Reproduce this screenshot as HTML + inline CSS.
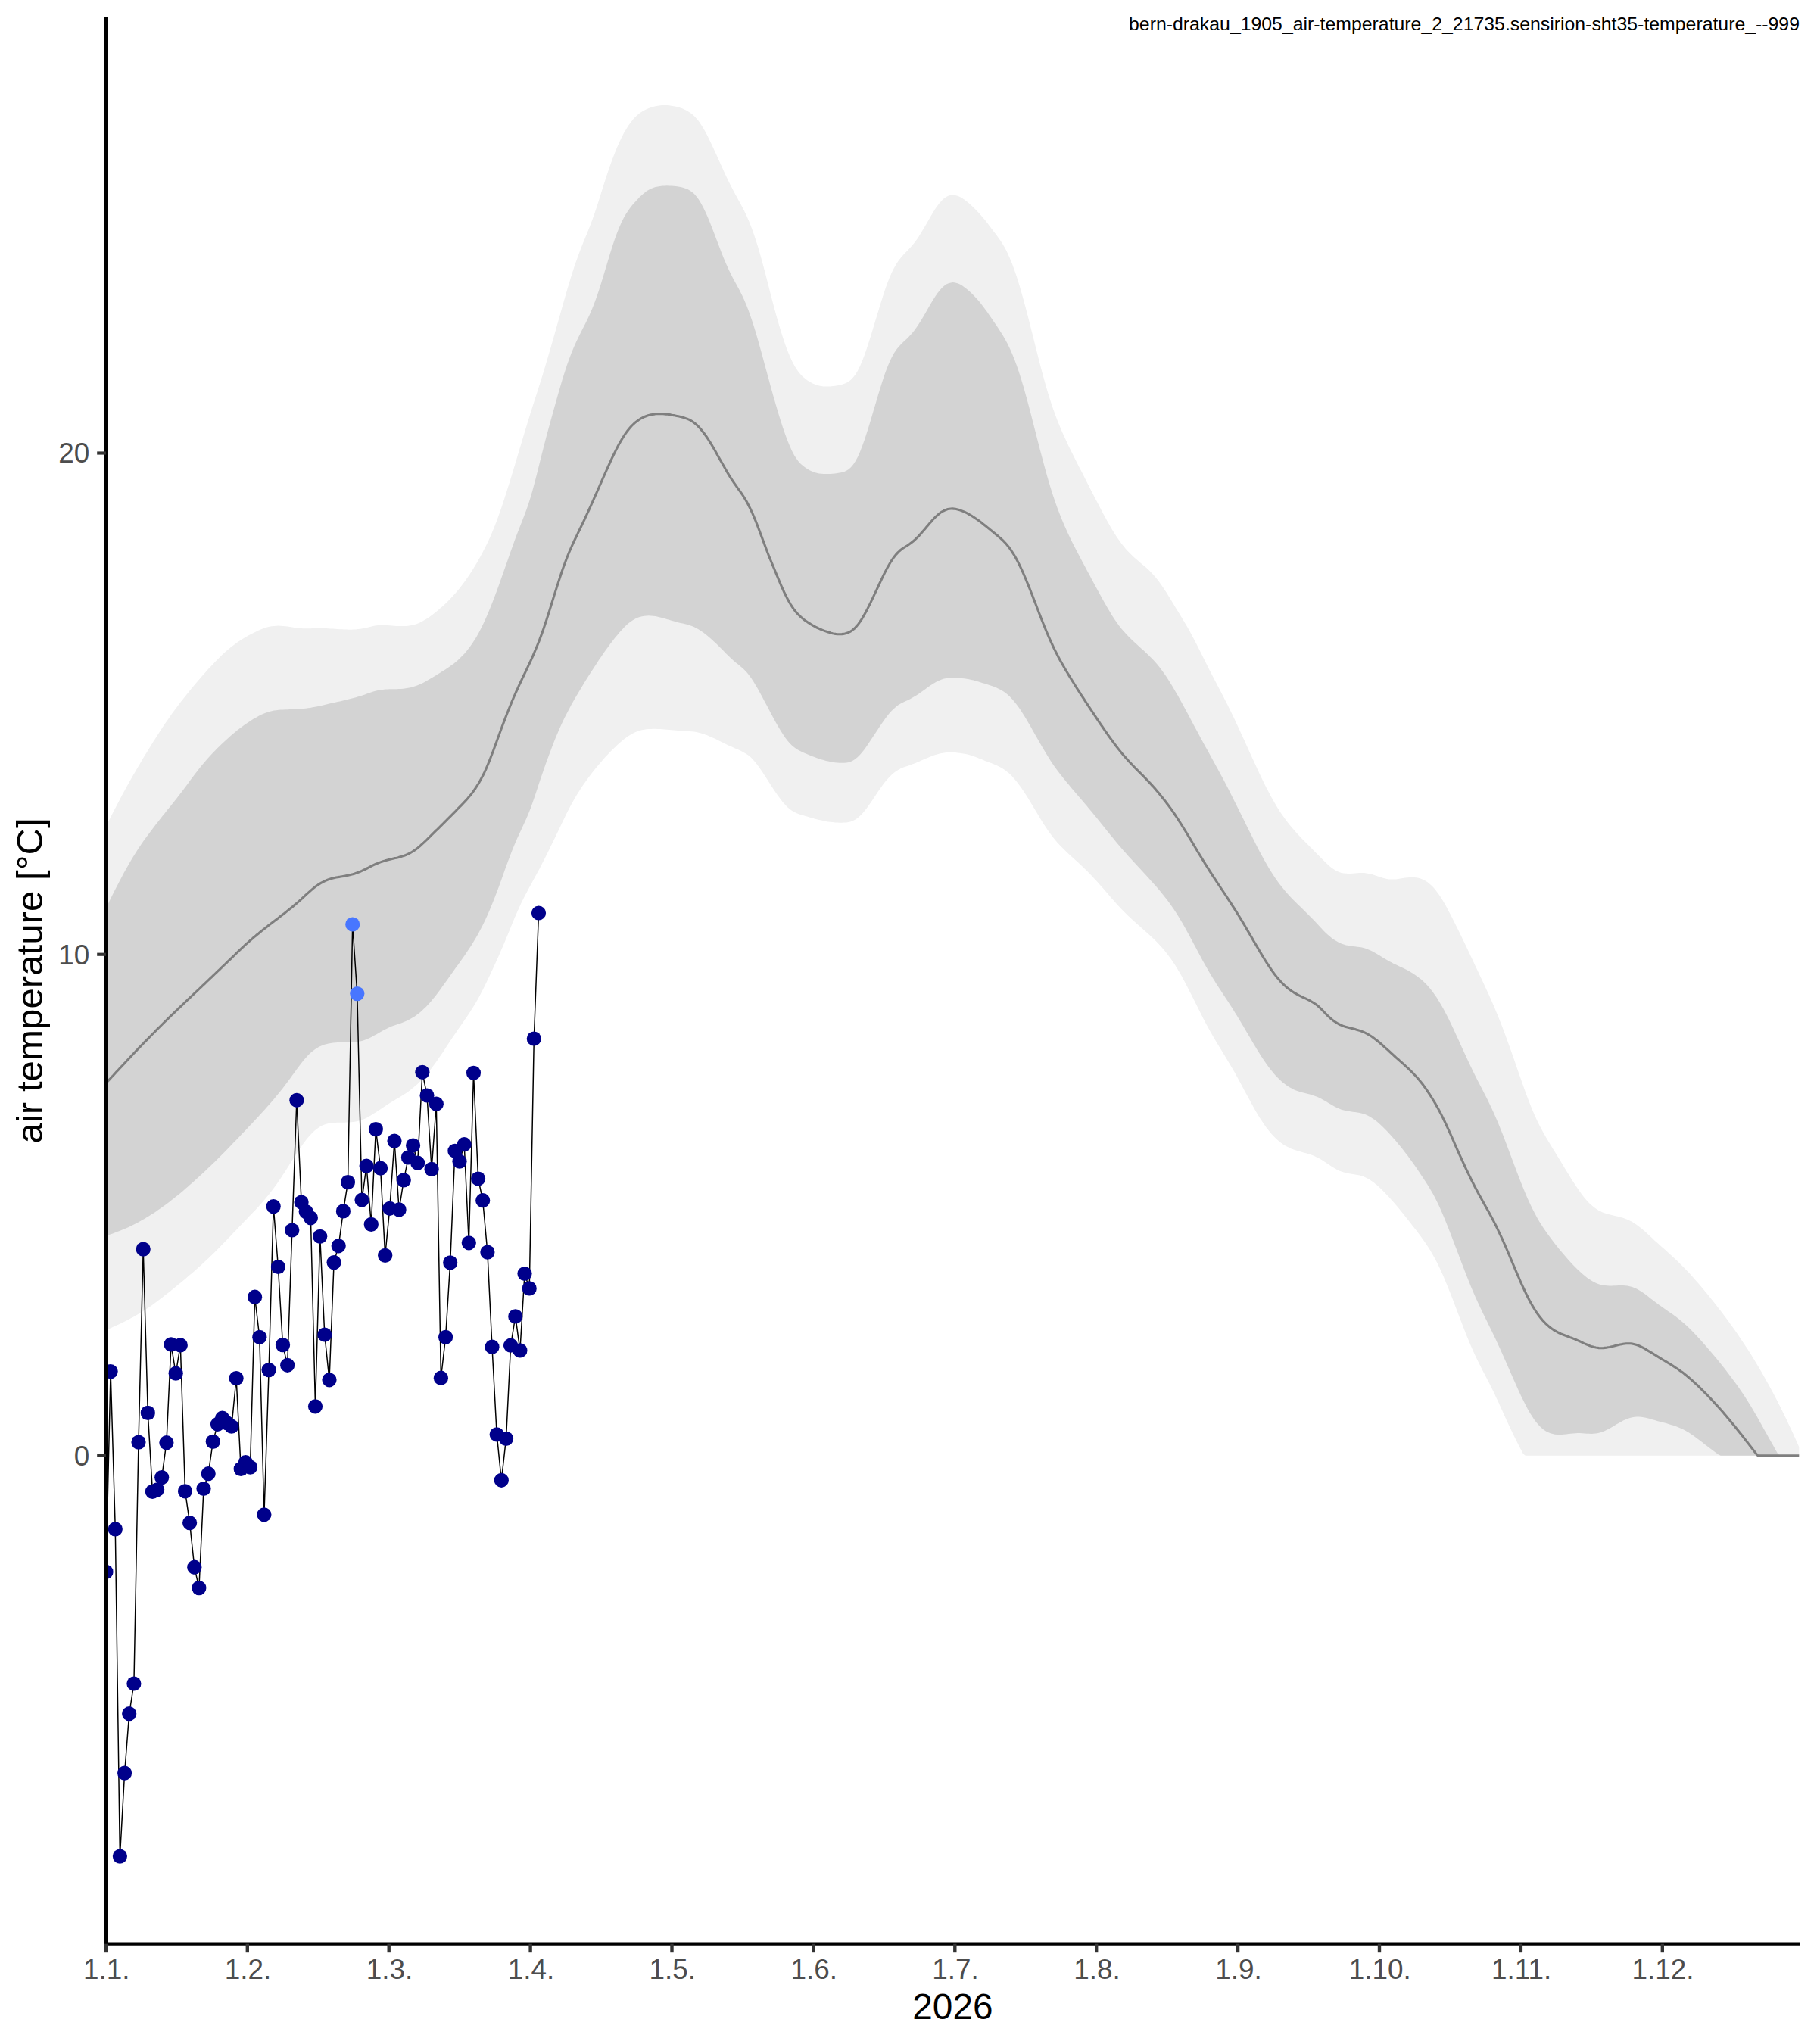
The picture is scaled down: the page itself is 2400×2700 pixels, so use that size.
<!DOCTYPE html>
<html><head><meta charset="utf-8"><title>chart</title>
<style>
html,body{margin:0;padding:0;background:#fff;}
body{width:2400px;height:2700px;overflow:hidden;font-family:"Liberation Sans",sans-serif;}
svg{display:block;}
text{font-family:"Liberation Sans",sans-serif;}
.tk{font-size:36.9px;fill:#4d4d4d;}
.lab{font-size:47.8px;fill:#000;}
.ttl{font-size:23.6px;fill:#000;}
</style></head><body>
<svg width="2400" height="2700" viewBox="0 0 2400 2700">
<rect width="2400" height="2700" fill="#fff"/>
<defs><clipPath id="panel"><rect x="139.9" y="22" width="2260.1" height="2546"/></clipPath></defs>
<g clip-path="url(#panel)">
<polygon points="139.9,1091.5 142.9,1085.7 145.9,1079.9 148.9,1074.1 151.9,1068.2 154.9,1062.4 157.9,1056.7 160.9,1051.0 163.9,1045.4 166.9,1039.9 169.9,1034.5 172.9,1029.2 175.9,1024.0 178.9,1018.9 181.9,1013.8 184.9,1008.7 187.9,1003.6 190.9,998.6 193.9,993.7 196.9,988.8 199.9,983.9 202.9,979.1 205.9,974.4 208.9,969.7 211.9,965.1 214.9,960.6 217.9,956.1 220.9,951.7 223.9,947.4 226.9,943.1 229.9,939.0 232.9,935.0 235.9,931.0 238.9,927.1 241.9,923.2 244.9,919.4 247.9,915.7 250.9,912.0 253.9,908.3 256.9,904.7 259.9,901.2 262.9,897.7 265.9,894.2 268.9,890.8 271.9,887.4 274.9,884.1 277.9,880.9 280.9,877.7 283.9,874.5 286.9,871.5 289.9,868.5 292.9,865.6 295.9,862.8 298.9,860.1 301.9,857.5 304.9,855.1 307.9,852.7 310.9,850.4 313.9,848.3 316.9,846.3 319.9,844.3 322.9,842.5 325.9,840.7 328.9,839.0 331.9,837.4 334.9,835.9 337.9,834.5 340.9,833.1 343.9,831.8 346.9,830.6 349.9,829.5 352.9,828.6 355.9,827.8 358.9,827.3 361.9,826.9 364.9,826.7 367.9,826.6 370.9,826.7 373.9,826.9 376.9,827.3 379.9,827.6 382.9,828.0 385.9,828.5 388.9,828.9 391.9,829.3 394.9,829.7 397.9,830.0 400.9,830.2 403.9,830.2 406.9,830.2 409.9,830.2 412.9,830.1 415.9,830.0 418.9,829.9 421.9,829.9 424.9,830.0 427.9,830.0 430.9,830.1 433.9,830.3 436.9,830.4 439.9,830.6 442.9,830.8 445.9,831.0 448.9,831.2 451.9,831.3 454.9,831.5 457.9,831.6 460.9,831.7 463.9,831.7 466.9,831.6 469.9,831.4 472.9,831.1 475.9,830.7 478.9,830.2 481.9,829.6 484.9,828.9 487.9,828.2 490.9,827.5 493.9,826.8 496.9,826.3 499.9,826.0 502.9,825.9 505.9,825.8 508.9,825.9 511.9,826.0 514.9,826.2 517.9,826.4 520.9,826.7 523.9,826.9 526.9,827.0 529.9,827.1 532.9,827.1 535.9,827.0 538.9,826.8 541.9,826.3 544.9,825.8 547.9,825.0 550.9,823.9 553.9,822.7 556.9,821.3 559.9,819.6 562.9,817.8 565.9,815.9 568.9,813.8 571.9,811.5 574.9,809.1 577.9,806.7 580.9,804.1 583.9,801.5 586.9,798.7 589.9,795.9 592.9,792.9 595.9,789.8 598.9,786.6 601.9,783.2 604.9,779.7 607.9,776.0 610.9,772.1 613.9,768.1 616.9,763.8 619.9,759.4 622.9,754.8 625.9,750.0 628.9,745.0 631.9,739.8 634.9,734.4 637.9,728.8 640.9,723.0 643.9,716.9 646.9,710.4 649.9,703.5 652.9,696.2 655.9,688.4 658.9,680.3 661.9,671.7 664.9,662.8 667.9,653.6 670.9,644.1 673.9,634.5 676.9,624.6 679.9,614.7 682.9,604.6 685.9,594.6 688.9,584.5 691.9,574.5 694.9,564.5 697.9,554.7 700.9,545.1 703.9,535.6 706.9,526.2 709.9,516.9 712.9,507.4 715.9,497.9 718.9,488.0 721.9,478.0 724.9,467.8 727.9,457.4 730.9,447.0 733.9,436.4 736.9,425.8 739.9,415.2 742.9,404.6 745.9,394.0 748.9,383.6 751.9,373.4 754.9,363.7 757.9,354.3 760.9,345.5 763.9,337.2 766.9,329.2 769.9,321.6 772.9,314.2 775.9,306.9 778.9,299.4 781.9,291.5 784.9,283.2 787.9,274.2 790.9,264.9 793.9,255.3 796.9,245.7 799.9,236.3 802.9,227.2 805.9,218.5 808.9,210.2 811.9,202.4 814.9,195.1 817.9,188.2 820.9,181.9 823.9,176.1 826.9,170.9 829.9,166.1 832.9,161.9 835.9,158.1 838.9,154.8 841.9,152.0 844.9,149.6 847.9,147.5 850.9,145.7 853.9,144.2 856.9,142.9 859.9,141.9 862.9,141.0 865.9,140.2 868.9,139.7 871.9,139.3 874.9,139.0 877.9,139.0 880.9,139.0 883.9,139.3 886.9,139.7 889.9,140.2 892.9,140.8 895.9,141.6 898.9,142.5 901.9,143.6 904.9,144.9 907.9,146.5 910.9,148.4 913.9,150.6 916.9,153.2 919.9,156.4 922.9,160.1 925.9,164.4 928.9,169.3 931.9,174.6 934.9,180.3 937.9,186.4 940.9,192.7 943.9,199.2 946.9,205.8 949.9,212.5 952.9,219.1 955.9,225.7 958.9,232.2 961.9,238.4 964.9,244.5 967.9,250.3 970.9,255.9 973.9,261.4 976.9,266.9 979.9,272.4 982.9,278.3 985.9,284.5 988.9,291.3 991.9,298.7 994.9,306.9 997.9,315.8 1000.9,325.3 1003.9,335.4 1006.9,346.2 1009.9,357.4 1012.9,369.0 1015.9,380.8 1018.9,392.4 1021.9,403.9 1024.9,415.0 1027.9,425.6 1030.9,435.7 1033.9,445.3 1036.9,454.2 1039.9,462.4 1042.9,469.8 1045.9,476.4 1048.9,482.2 1051.9,487.2 1054.9,491.4 1057.9,494.9 1060.9,497.9 1063.9,500.5 1066.9,502.7 1069.9,504.6 1072.9,506.3 1075.9,507.6 1078.9,508.6 1081.9,509.4 1084.9,510.0 1087.9,510.4 1090.9,510.5 1093.9,510.5 1096.9,510.4 1099.9,510.1 1102.9,509.8 1105.9,509.3 1108.9,508.7 1111.9,508.0 1114.9,507.0 1117.9,505.7 1120.9,504.0 1123.9,501.7 1126.9,498.6 1129.9,494.7 1132.9,489.7 1135.9,483.7 1138.9,476.7 1141.9,468.9 1144.9,460.2 1147.9,451.0 1150.9,441.4 1153.9,431.6 1156.9,421.6 1159.9,411.7 1162.9,401.8 1165.9,392.3 1168.9,383.1 1171.9,374.6 1174.9,366.8 1177.9,359.9 1180.9,353.9 1183.9,348.7 1186.9,344.2 1189.9,340.4 1192.9,336.9 1195.9,333.8 1198.9,330.7 1201.9,327.6 1204.9,324.2 1207.9,320.5 1210.9,316.4 1213.9,311.9 1216.9,307.1 1219.9,302.1 1222.9,296.9 1225.9,291.7 1228.9,286.4 1231.9,281.4 1234.9,276.6 1237.9,272.2 1240.9,268.3 1243.9,264.9 1246.9,262.1 1249.9,260.0 1252.9,258.6 1255.9,257.8 1258.9,257.6 1261.9,257.9 1264.9,258.8 1267.9,260.1 1270.9,261.8 1273.9,263.8 1276.9,266.1 1279.9,268.6 1282.9,271.3 1285.9,274.1 1288.9,277.1 1291.9,280.2 1294.9,283.4 1297.9,286.9 1300.9,290.5 1303.9,294.3 1306.9,298.2 1309.9,302.2 1312.9,306.2 1315.9,310.1 1318.9,314.2 1321.9,318.6 1324.9,323.3 1327.9,328.6 1330.9,334.5 1333.9,341.2 1336.9,348.6 1339.9,356.7 1342.9,365.5 1345.9,375.1 1348.9,385.2 1351.9,395.9 1354.9,407.1 1357.9,418.6 1360.9,430.4 1363.9,442.3 1366.9,454.3 1369.9,466.3 1372.9,478.0 1375.9,489.5 1378.9,500.6 1381.9,511.2 1384.9,521.3 1387.9,530.8 1390.9,539.7 1393.9,548.0 1396.9,555.9 1399.9,563.3 1402.9,570.4 1405.9,577.1 1408.9,583.6 1411.9,589.9 1414.9,596.0 1417.9,602.0 1420.9,608.0 1423.9,613.9 1426.9,619.7 1429.9,625.6 1432.9,631.5 1435.9,637.4 1438.9,643.3 1441.9,649.2 1444.9,655.0 1447.9,660.8 1450.9,666.6 1453.9,672.3 1456.9,678.0 1459.9,683.5 1462.9,689.0 1465.9,694.3 1468.9,699.4 1471.9,704.3 1474.9,709.0 1477.9,713.3 1480.9,717.4 1483.9,721.3 1486.9,724.9 1489.9,728.2 1492.9,731.3 1495.9,734.2 1498.9,737.0 1501.9,739.6 1504.9,742.2 1507.9,744.7 1510.9,747.2 1513.9,749.8 1516.9,752.6 1519.9,755.5 1522.9,758.7 1525.9,762.1 1528.9,765.8 1531.9,769.8 1534.9,774.0 1537.9,778.4 1540.9,783.1 1543.9,787.9 1546.9,792.8 1549.9,797.7 1552.9,802.7 1555.9,807.6 1558.9,812.5 1561.9,817.4 1564.9,822.4 1567.9,827.5 1570.9,832.8 1573.9,838.4 1576.9,844.0 1579.9,849.8 1582.9,855.8 1585.9,861.7 1588.9,867.8 1591.9,873.8 1594.9,879.8 1597.9,885.7 1600.9,891.5 1603.9,897.3 1606.9,903.0 1609.9,908.7 1612.9,914.5 1615.9,920.3 1618.9,926.2 1621.9,932.1 1624.9,938.2 1627.9,944.3 1630.9,950.6 1633.9,956.9 1636.9,963.4 1639.9,969.9 1642.9,976.5 1645.9,983.2 1648.9,989.8 1651.9,996.4 1654.9,1003.1 1657.9,1009.6 1660.9,1016.1 1663.9,1022.5 1666.9,1028.8 1669.9,1034.9 1672.9,1040.9 1675.9,1046.6 1678.9,1052.2 1681.9,1057.6 1684.9,1062.7 1687.9,1067.7 1690.9,1072.4 1693.9,1076.8 1696.9,1081.1 1699.9,1085.1 1702.9,1089.0 1705.9,1092.6 1708.9,1096.1 1711.9,1099.5 1714.9,1102.8 1717.9,1105.9 1720.9,1109.0 1723.9,1112.1 1726.9,1115.1 1729.9,1118.1 1732.9,1121.1 1735.9,1124.2 1738.9,1127.2 1741.9,1130.2 1744.9,1133.3 1747.9,1136.3 1750.9,1139.3 1753.9,1142.1 1756.9,1144.7 1759.9,1147.0 1762.9,1149.0 1765.9,1150.7 1768.9,1152.0 1771.9,1152.9 1774.9,1153.5 1777.9,1153.8 1780.9,1153.9 1783.9,1153.9 1786.9,1153.7 1789.9,1153.5 1792.9,1153.2 1795.9,1153.1 1798.9,1153.0 1801.9,1153.1 1804.9,1153.4 1807.9,1153.9 1810.9,1154.6 1813.9,1155.4 1816.9,1156.4 1819.9,1157.4 1822.9,1158.5 1825.9,1159.5 1828.9,1160.3 1831.9,1161.0 1834.9,1161.4 1837.9,1161.6 1840.9,1161.6 1843.9,1161.4 1846.9,1161.0 1849.9,1160.6 1852.9,1160.1 1855.9,1159.6 1858.9,1159.3 1861.9,1159.0 1864.9,1158.9 1867.9,1159.0 1870.9,1159.3 1873.9,1159.8 1876.9,1160.7 1879.9,1161.9 1882.9,1163.5 1885.9,1165.5 1888.9,1167.9 1891.9,1170.8 1894.9,1174.1 1897.9,1177.9 1900.9,1182.1 1903.9,1186.6 1906.9,1191.6 1909.9,1196.8 1912.9,1202.4 1915.9,1208.1 1918.9,1213.9 1921.9,1219.9 1924.9,1225.9 1927.9,1232.1 1930.9,1238.3 1933.9,1244.5 1936.9,1250.8 1939.9,1257.1 1942.9,1263.5 1945.9,1269.8 1948.9,1276.2 1951.9,1282.6 1954.9,1288.9 1957.9,1295.3 1960.9,1301.7 1963.9,1308.2 1966.9,1314.8 1969.9,1321.5 1972.9,1328.3 1975.9,1335.4 1978.9,1342.7 1981.9,1350.3 1984.9,1358.0 1987.9,1366.0 1990.9,1374.2 1993.9,1382.5 1996.9,1391.0 1999.9,1399.6 2002.9,1408.2 2005.9,1416.9 2008.9,1425.5 2011.9,1434.0 2014.9,1442.4 2017.9,1450.5 2020.9,1458.3 2023.9,1465.7 2026.9,1472.7 2029.9,1479.3 2032.9,1485.4 2035.9,1491.2 2038.9,1496.7 2041.9,1501.9 2044.9,1507.0 2047.9,1512.0 2050.9,1516.9 2053.9,1521.8 2056.9,1526.7 2059.9,1531.6 2062.9,1536.6 2065.9,1541.5 2068.9,1546.4 2071.9,1551.3 2074.9,1556.2 2077.9,1560.9 2080.9,1565.6 2083.9,1570.1 2086.9,1574.3 2089.9,1578.4 2092.9,1582.2 2095.9,1585.7 2098.9,1588.9 2101.9,1591.8 2104.9,1594.3 2107.9,1596.5 2110.9,1598.4 2113.9,1600.1 2116.9,1601.4 2119.9,1602.6 2122.9,1603.5 2125.9,1604.3 2128.9,1605.1 2131.9,1605.7 2134.9,1606.4 2137.9,1607.1 2140.9,1607.9 2143.9,1608.8 2146.9,1609.9 2149.9,1611.1 2152.9,1612.5 2155.9,1614.1 2158.9,1615.9 2161.9,1617.9 2164.9,1620.2 2167.9,1622.6 2170.9,1625.1 2173.9,1627.8 2176.9,1630.5 2179.9,1633.3 2182.9,1636.1 2185.9,1638.9 2188.9,1641.6 2191.9,1644.3 2194.9,1647.0 2197.9,1649.6 2200.9,1652.3 2203.9,1655.0 2206.9,1657.7 2209.9,1660.4 2212.9,1663.2 2215.9,1666.1 2218.9,1669.0 2221.9,1672.0 2224.9,1675.0 2227.9,1678.2 2230.9,1681.3 2233.9,1684.6 2236.9,1688.0 2239.9,1691.4 2242.9,1694.8 2245.9,1698.3 2248.9,1701.8 2251.9,1705.4 2254.9,1709.0 2257.9,1712.7 2260.9,1716.4 2263.9,1720.2 2266.9,1724.0 2269.9,1727.9 2272.9,1731.8 2275.9,1735.7 2278.9,1739.7 2281.9,1743.8 2284.9,1747.9 2287.9,1752.1 2290.9,1756.3 2293.9,1760.6 2296.9,1764.9 2299.9,1769.4 2302.9,1773.9 2305.9,1778.4 2308.9,1783.1 2311.9,1787.8 2314.9,1792.6 2317.9,1797.6 2320.9,1802.6 2323.9,1807.6 2326.9,1812.8 2329.9,1818.0 2332.9,1823.4 2335.9,1828.8 2338.9,1834.3 2341.9,1839.8 2344.9,1845.5 2347.9,1851.3 2350.9,1857.2 2353.9,1863.3 2356.9,1869.4 2359.9,1875.6 2362.9,1881.9 2365.9,1888.3 2368.9,1894.8 2371.9,1901.4 2374.9,1907.9 2376.3,1911.5 2376.3,1922.8 2374.9,1922.8 2371.9,1922.8 2368.9,1922.8 2365.9,1922.8 2362.9,1922.8 2359.9,1922.8 2356.9,1922.8 2353.9,1922.8 2350.9,1922.8 2347.9,1922.8 2344.9,1922.8 2341.9,1922.8 2338.9,1922.8 2335.9,1922.8 2332.9,1922.8 2329.9,1922.8 2326.9,1922.8 2323.9,1922.8 2320.9,1922.8 2317.9,1922.8 2314.9,1922.8 2311.9,1922.8 2308.9,1922.8 2305.9,1922.8 2302.9,1922.8 2299.9,1922.8 2296.9,1922.8 2293.9,1922.8 2290.9,1922.8 2287.9,1922.8 2284.9,1922.8 2281.9,1922.8 2278.9,1922.8 2275.9,1922.8 2272.9,1922.8 2269.9,1922.8 2266.9,1922.8 2263.9,1922.8 2260.9,1922.8 2257.9,1922.8 2254.9,1922.8 2251.9,1922.8 2248.9,1922.8 2245.9,1922.8 2242.9,1922.8 2239.9,1922.8 2236.9,1922.8 2233.9,1922.8 2230.9,1922.8 2227.9,1922.8 2224.9,1922.8 2221.9,1922.8 2218.9,1922.8 2215.9,1922.8 2212.9,1922.8 2209.9,1922.8 2206.9,1922.8 2203.9,1922.8 2200.9,1922.8 2197.9,1922.8 2194.9,1922.8 2191.9,1922.8 2188.9,1922.8 2185.9,1922.8 2182.9,1922.8 2179.9,1922.8 2176.9,1922.8 2173.9,1922.8 2170.9,1922.8 2167.9,1922.8 2164.9,1922.8 2161.9,1922.8 2158.9,1922.8 2155.9,1922.8 2152.9,1922.8 2149.9,1922.8 2146.9,1922.8 2143.9,1922.8 2140.9,1922.8 2137.9,1922.8 2134.9,1922.8 2131.9,1922.8 2128.9,1922.8 2125.9,1922.8 2122.9,1922.8 2119.9,1922.8 2116.9,1922.8 2113.9,1922.8 2110.9,1922.8 2107.9,1922.8 2104.9,1922.8 2101.9,1922.8 2098.9,1922.8 2095.9,1922.8 2092.9,1922.8 2089.9,1922.8 2086.9,1922.8 2083.9,1922.8 2080.9,1922.8 2077.9,1922.8 2074.9,1922.8 2071.9,1922.8 2068.9,1922.8 2065.9,1922.8 2062.9,1922.8 2059.9,1922.8 2056.9,1922.8 2053.9,1922.8 2050.9,1922.8 2047.9,1922.8 2044.9,1922.8 2041.9,1922.8 2038.9,1922.8 2035.9,1922.8 2032.9,1922.8 2029.9,1922.8 2026.9,1922.8 2023.9,1922.8 2020.9,1922.8 2017.9,1922.8 2014.9,1922.8 2011.9,1920.6 2008.9,1914.8 2005.9,1908.9 2002.9,1903.0 1999.9,1896.9 1996.9,1890.7 1993.9,1884.4 1990.9,1877.9 1987.9,1871.4 1984.9,1864.8 1981.9,1858.2 1978.9,1851.6 1975.9,1845.2 1972.9,1838.8 1969.9,1832.7 1966.9,1826.8 1963.9,1821.0 1960.9,1815.2 1957.9,1809.4 1954.9,1803.5 1951.9,1797.5 1948.9,1791.3 1945.9,1784.8 1942.9,1777.9 1939.9,1770.8 1936.9,1763.4 1933.9,1755.8 1930.9,1748.1 1927.9,1740.2 1924.9,1732.3 1921.9,1724.4 1918.9,1716.6 1915.9,1708.8 1912.9,1701.3 1909.9,1693.9 1906.9,1686.8 1903.9,1680.0 1900.9,1673.6 1897.9,1667.5 1894.9,1661.8 1891.9,1656.4 1888.9,1651.3 1885.9,1646.5 1882.9,1642.0 1879.9,1637.7 1876.9,1633.5 1873.9,1629.5 1870.9,1625.6 1867.9,1621.8 1864.9,1618.0 1861.9,1614.1 1858.9,1610.3 1855.9,1606.5 1852.9,1602.7 1849.9,1598.9 1846.9,1595.3 1843.9,1591.7 1840.9,1588.3 1837.9,1584.9 1834.9,1581.6 1831.9,1578.4 1828.9,1575.2 1825.9,1572.2 1822.9,1569.2 1819.9,1566.5 1816.9,1563.9 1813.9,1561.5 1810.9,1559.4 1807.9,1557.5 1804.9,1555.9 1801.9,1554.6 1798.9,1553.5 1795.9,1552.6 1792.9,1551.9 1789.9,1551.4 1786.9,1550.9 1783.9,1550.4 1780.9,1549.9 1777.9,1549.3 1774.9,1548.6 1771.9,1547.6 1768.9,1546.4 1765.9,1544.9 1762.9,1543.3 1759.9,1541.5 1756.9,1539.5 1753.9,1537.4 1750.9,1535.4 1747.9,1533.4 1744.9,1531.6 1741.9,1529.9 1738.9,1528.4 1735.9,1527.0 1732.9,1525.8 1729.9,1524.8 1726.9,1523.8 1723.9,1523.0 1720.9,1522.2 1717.9,1521.3 1714.9,1520.5 1711.9,1519.6 1708.9,1518.6 1705.9,1517.5 1702.9,1516.1 1699.9,1514.6 1696.9,1512.9 1693.9,1510.9 1690.9,1508.7 1687.9,1506.3 1684.9,1503.5 1681.9,1500.5 1678.9,1497.2 1675.9,1493.6 1672.9,1489.7 1669.9,1485.6 1666.9,1481.1 1663.9,1476.4 1660.9,1471.5 1657.9,1466.4 1654.9,1461.1 1651.9,1455.6 1648.9,1450.1 1645.9,1444.5 1642.9,1438.9 1639.9,1433.3 1636.9,1427.7 1633.9,1422.2 1630.9,1416.8 1627.9,1411.5 1624.9,1406.4 1621.9,1401.4 1618.9,1396.4 1615.9,1391.5 1612.9,1386.6 1609.9,1381.7 1606.9,1376.7 1603.9,1371.7 1600.9,1366.6 1597.9,1361.3 1594.9,1355.8 1591.9,1350.2 1588.9,1344.4 1585.9,1338.6 1582.9,1332.6 1579.9,1326.6 1576.9,1320.6 1573.9,1314.6 1570.9,1308.7 1567.9,1302.8 1564.9,1297.1 1561.9,1291.5 1558.9,1286.1 1555.9,1280.9 1552.9,1276.0 1549.9,1271.4 1546.9,1267.0 1543.9,1262.9 1540.9,1258.9 1537.9,1255.2 1534.9,1251.7 1531.9,1248.4 1528.9,1245.2 1525.9,1242.2 1522.9,1239.3 1519.9,1236.5 1516.9,1233.7 1513.9,1231.0 1510.9,1228.4 1507.9,1225.7 1504.9,1223.1 1501.9,1220.4 1498.9,1217.7 1495.9,1215.0 1492.9,1212.2 1489.9,1209.4 1486.9,1206.4 1483.9,1203.4 1480.9,1200.4 1477.9,1197.2 1474.9,1193.9 1471.9,1190.6 1468.9,1187.2 1465.9,1183.7 1462.9,1180.2 1459.9,1176.8 1456.9,1173.3 1453.9,1169.9 1450.9,1166.5 1447.9,1163.2 1444.9,1160.0 1441.9,1156.8 1438.9,1153.7 1435.9,1150.6 1432.9,1147.7 1429.9,1144.8 1426.9,1141.9 1423.9,1139.1 1420.9,1136.4 1417.9,1133.7 1414.9,1130.9 1411.9,1128.2 1408.9,1125.4 1405.9,1122.5 1402.9,1119.5 1399.9,1116.4 1396.9,1113.2 1393.9,1109.7 1390.9,1106.0 1387.9,1102.1 1384.9,1098.0 1381.9,1093.6 1378.9,1089.0 1375.9,1084.2 1372.9,1079.3 1369.9,1074.3 1366.9,1069.2 1363.9,1064.2 1360.9,1059.2 1357.9,1054.3 1354.9,1049.5 1351.9,1044.9 1348.9,1040.5 1345.9,1036.4 1342.9,1032.5 1339.9,1028.9 1336.9,1025.6 1333.9,1022.6 1330.9,1019.9 1327.9,1017.5 1324.9,1015.5 1321.9,1013.7 1318.9,1012.2 1315.9,1010.8 1312.9,1009.5 1309.9,1008.3 1306.9,1007.2 1303.9,1006.0 1300.9,1004.9 1297.9,1003.6 1294.9,1002.4 1291.9,1001.2 1288.9,1000.0 1285.9,998.9 1282.9,997.9 1279.9,997.1 1276.9,996.3 1273.9,995.7 1270.9,995.2 1267.9,994.8 1264.9,994.4 1261.9,994.1 1258.9,993.9 1255.9,993.9 1252.9,993.9 1249.9,994.1 1246.9,994.5 1243.9,995.0 1240.9,995.6 1237.9,996.4 1234.9,997.3 1231.9,998.3 1228.9,999.5 1225.9,1000.7 1222.9,1001.9 1219.9,1003.2 1216.9,1004.5 1213.9,1005.9 1210.9,1007.2 1207.9,1008.4 1204.9,1009.6 1201.9,1010.7 1198.9,1011.7 1195.9,1012.7 1192.9,1013.8 1189.9,1015.1 1186.9,1016.7 1183.9,1018.5 1180.9,1020.7 1177.9,1023.3 1174.9,1026.2 1171.9,1029.5 1168.9,1033.1 1165.9,1037.0 1162.9,1041.2 1159.9,1045.5 1156.9,1050.0 1153.9,1054.5 1150.9,1059.0 1147.9,1063.3 1144.9,1067.5 1141.9,1071.3 1138.9,1074.8 1135.9,1077.8 1132.9,1080.4 1129.9,1082.5 1126.9,1084.1 1123.9,1085.2 1120.9,1086.0 1117.9,1086.4 1114.9,1086.6 1111.9,1086.7 1108.9,1086.7 1105.9,1086.6 1102.9,1086.4 1099.9,1086.1 1096.9,1085.8 1093.9,1085.4 1090.9,1084.9 1087.9,1084.3 1084.9,1083.6 1081.9,1082.9 1078.9,1082.2 1075.9,1081.4 1072.9,1080.6 1069.9,1079.7 1066.9,1078.8 1063.9,1078.0 1060.9,1077.1 1057.9,1076.2 1054.9,1075.2 1051.9,1074.0 1048.9,1072.5 1045.9,1070.7 1042.9,1068.5 1039.9,1065.9 1036.9,1062.8 1033.9,1059.4 1030.9,1055.6 1027.9,1051.5 1024.9,1047.2 1021.9,1042.7 1018.9,1038.2 1015.9,1033.5 1012.9,1028.8 1009.9,1024.2 1006.9,1019.6 1003.9,1015.2 1000.9,1011.0 997.9,1007.2 994.9,1003.7 991.9,1000.6 988.9,998.1 985.9,996.0 982.9,994.2 979.9,992.6 976.9,991.1 973.9,989.7 970.9,988.4 967.9,987.1 964.9,985.8 961.9,984.4 958.9,983.0 955.9,981.5 952.9,980.0 949.9,978.5 946.9,977.0 943.9,975.6 940.9,974.2 937.9,972.9 934.9,971.6 931.9,970.5 928.9,969.5 925.9,968.6 922.9,967.8 919.9,967.1 916.9,966.6 913.9,966.2 910.9,965.9 907.9,965.6 904.9,965.4 901.9,965.3 898.9,965.1 895.9,964.9 892.9,964.7 889.9,964.5 886.9,964.2 883.9,964.0 880.9,963.7 877.9,963.5 874.9,963.3 871.9,963.1 868.9,962.9 865.9,962.8 862.9,962.8 859.9,962.9 856.9,963.0 853.9,963.3 850.9,963.7 847.9,964.3 844.9,965.1 841.9,966.1 838.9,967.3 835.9,968.7 832.9,970.4 829.9,972.3 826.9,974.4 823.9,976.8 820.9,979.2 817.9,981.8 814.9,984.5 811.9,987.4 808.9,990.3 805.9,993.3 802.9,996.4 799.9,999.6 796.9,1003.0 793.9,1006.4 790.9,1009.9 787.9,1013.6 784.9,1017.3 781.9,1021.1 778.9,1025.1 775.9,1029.1 772.9,1033.3 769.9,1037.6 766.9,1042.1 763.9,1046.8 760.9,1051.6 757.9,1056.7 754.9,1062.1 751.9,1067.7 748.9,1073.6 745.9,1079.8 742.9,1086.0 739.9,1092.3 736.9,1098.6 733.9,1104.8 730.9,1111.0 727.9,1117.1 724.9,1123.2 721.9,1129.2 718.9,1135.2 715.9,1141.1 712.9,1146.9 709.9,1152.6 706.9,1158.1 703.9,1163.6 700.9,1169.1 697.9,1174.6 694.9,1180.2 691.9,1186.0 688.9,1192.1 685.9,1198.5 682.9,1205.2 679.9,1212.1 676.9,1219.3 673.9,1226.7 670.9,1234.0 667.9,1241.3 664.9,1248.4 661.9,1255.3 658.9,1262.2 655.9,1268.9 652.9,1275.4 649.9,1281.9 646.9,1288.4 643.9,1294.7 640.9,1301.0 637.9,1307.0 634.9,1312.8 631.9,1318.4 628.9,1323.7 625.9,1328.8 622.9,1333.6 619.9,1338.2 616.9,1342.7 613.9,1347.1 610.9,1351.4 607.9,1355.7 604.9,1360.0 601.9,1364.4 598.9,1368.8 595.9,1373.3 592.9,1377.8 589.9,1382.3 586.9,1386.9 583.9,1391.4 580.9,1395.8 577.9,1400.2 574.9,1404.4 571.9,1408.5 568.9,1412.5 565.9,1416.2 562.9,1419.8 559.9,1423.3 556.9,1426.5 553.9,1429.5 550.9,1432.4 547.9,1435.1 544.9,1437.6 541.9,1440.0 538.9,1442.2 535.9,1444.2 532.9,1446.2 529.9,1448.1 526.9,1449.9 523.9,1451.6 520.9,1453.4 517.9,1455.2 514.9,1457.0 511.9,1458.9 508.9,1460.9 505.9,1462.9 502.9,1464.9 499.9,1466.9 496.9,1468.9 493.9,1470.8 490.9,1472.7 487.9,1474.5 484.9,1476.2 481.9,1477.7 478.9,1478.9 475.9,1480.0 472.9,1480.8 469.9,1481.4 466.9,1481.9 463.9,1482.2 460.9,1482.5 457.9,1482.6 454.9,1482.7 451.9,1482.7 448.9,1482.8 445.9,1482.8 442.9,1483.0 439.9,1483.2 436.9,1483.5 433.9,1484.1 430.9,1484.8 427.9,1485.8 424.9,1487.1 421.9,1488.8 418.9,1490.9 415.9,1493.3 412.9,1496.1 409.9,1499.2 406.9,1502.6 403.9,1506.3 400.9,1510.2 397.9,1514.4 394.9,1518.8 391.9,1523.3 388.9,1528.0 385.9,1532.7 382.9,1537.4 379.9,1542.2 376.9,1547.0 373.9,1551.6 370.9,1556.2 367.9,1560.6 364.9,1564.9 361.9,1569.0 358.9,1573.0 355.9,1576.9 352.9,1580.6 349.9,1584.3 346.9,1587.8 343.9,1591.1 340.9,1594.4 337.9,1597.7 334.9,1600.8 331.9,1604.0 328.9,1607.1 325.9,1610.2 322.9,1613.3 319.9,1616.4 316.9,1619.6 313.9,1622.7 310.9,1625.9 307.9,1629.0 304.9,1632.2 301.9,1635.3 298.9,1638.4 295.9,1641.5 292.9,1644.6 289.9,1647.7 286.9,1650.7 283.9,1653.7 280.9,1656.7 277.9,1659.6 274.9,1662.5 271.9,1665.3 268.9,1668.1 265.9,1670.9 262.9,1673.6 259.9,1676.2 256.9,1678.9 253.9,1681.5 250.9,1684.1 247.9,1686.6 244.9,1689.2 241.9,1691.7 238.9,1694.2 235.9,1696.6 232.9,1699.1 229.9,1701.5 226.9,1704.0 223.9,1706.4 220.9,1708.8 217.9,1711.1 214.9,1713.5 211.9,1715.8 208.9,1718.1 205.9,1720.3 202.9,1722.5 199.9,1724.7 196.9,1726.8 193.9,1728.8 190.9,1730.8 187.9,1732.7 184.9,1734.6 181.9,1736.3 178.9,1738.1 175.9,1739.7 172.9,1741.3 169.9,1742.9 166.9,1744.5 163.9,1746.0 160.9,1747.4 157.9,1748.9 154.9,1750.3 151.9,1751.7 148.9,1753.1 145.9,1754.4 142.9,1755.8 139.9,1757.1" fill="#f0f0f0"/>
<polygon points="139.9,1200.4 142.9,1193.7 145.9,1187.6 148.9,1181.6 151.9,1175.6 154.9,1169.7 157.9,1163.9 160.9,1158.2 163.9,1152.6 166.9,1147.2 169.9,1141.9 172.9,1136.7 175.9,1131.7 178.9,1126.9 181.9,1122.2 184.9,1117.7 187.9,1113.3 190.9,1109.1 193.9,1104.9 196.9,1100.9 199.9,1096.9 202.9,1092.9 205.9,1089.0 208.9,1085.2 211.9,1081.4 214.9,1077.6 217.9,1073.9 220.9,1070.1 223.9,1066.4 226.9,1062.7 229.9,1058.9 232.9,1055.2 235.9,1051.3 238.9,1047.5 241.9,1043.5 244.9,1039.5 247.9,1035.4 250.9,1031.3 253.9,1027.3 256.9,1023.3 259.9,1019.4 262.9,1015.6 265.9,1011.8 268.9,1008.2 271.9,1004.7 274.9,1001.3 277.9,998.0 280.9,994.8 283.9,991.7 286.9,988.6 289.9,985.7 292.9,982.8 295.9,979.9 298.9,977.2 301.9,974.5 304.9,971.8 307.9,969.2 310.9,966.7 313.9,964.3 316.9,962.0 319.9,959.7 322.9,957.6 325.9,955.5 328.9,953.5 331.9,951.5 334.9,949.6 337.9,947.9 340.9,946.2 343.9,944.6 346.9,943.2 349.9,942.0 352.9,940.9 355.9,940.0 358.9,939.2 361.9,938.6 364.9,938.2 367.9,937.8 370.9,937.6 373.9,937.4 376.9,937.2 379.9,937.2 382.9,937.1 385.9,937.0 388.9,936.9 391.9,936.8 394.9,936.6 397.9,936.4 400.9,936.1 403.9,935.8 406.9,935.3 409.9,934.9 412.9,934.3 415.9,933.8 418.9,933.2 421.9,932.5 424.9,931.9 427.9,931.2 430.9,930.5 433.9,929.8 436.9,929.1 439.9,928.4 442.9,927.8 445.9,927.1 448.9,926.4 451.9,925.7 454.9,925.1 457.9,924.3 460.9,923.6 463.9,922.8 466.9,922.0 469.9,921.2 472.9,920.3 475.9,919.4 478.9,918.4 481.9,917.4 484.9,916.3 487.9,915.2 490.9,914.2 493.9,913.3 496.9,912.4 499.9,911.8 502.9,911.2 505.9,910.9 508.9,910.6 511.9,910.4 514.9,910.3 517.9,910.3 520.9,910.2 523.9,910.2 526.9,910.1 529.9,909.9 532.9,909.7 535.9,909.3 538.9,908.8 541.9,908.2 544.9,907.5 547.9,906.6 550.9,905.5 553.9,904.3 556.9,902.9 559.9,901.4 562.9,899.8 565.9,898.1 568.9,896.3 571.9,894.5 574.9,892.7 577.9,890.8 580.9,889.0 583.9,887.1 586.9,885.2 589.9,883.3 592.9,881.3 595.9,879.1 598.9,876.9 601.9,874.5 604.9,871.9 607.9,869.1 610.9,866.1 613.9,862.9 616.9,859.3 619.9,855.5 622.9,851.3 625.9,846.8 628.9,842.0 631.9,836.7 634.9,831.1 637.9,825.0 640.9,818.5 643.9,811.7 646.9,804.5 649.9,797.0 652.9,789.2 655.9,781.2 658.9,773.0 661.9,764.6 664.9,756.1 667.9,747.5 670.9,738.9 673.9,730.3 676.9,721.9 679.9,713.6 682.9,705.5 685.9,697.8 688.9,690.2 691.9,682.6 694.9,674.6 697.9,666.0 700.9,656.5 703.9,646.0 706.9,634.7 709.9,622.9 712.9,610.9 715.9,599.0 718.9,587.2 721.9,575.8 724.9,564.7 727.9,553.7 730.9,542.9 733.9,532.2 736.9,521.6 739.9,511.2 742.9,501.1 745.9,491.4 748.9,482.3 751.9,473.9 754.9,466.1 757.9,458.8 760.9,452.1 763.9,445.8 766.9,439.8 769.9,433.8 772.9,427.9 775.9,421.8 778.9,415.4 781.9,408.5 784.9,401.0 787.9,392.8 790.9,384.0 793.9,374.6 796.9,364.8 799.9,354.8 802.9,344.7 805.9,334.7 808.9,325.2 811.9,316.2 814.9,308.0 817.9,300.6 820.9,293.8 823.9,287.8 826.9,282.5 829.9,277.9 832.9,273.8 835.9,270.1 838.9,266.7 841.9,263.4 844.9,260.3 847.9,257.4 850.9,254.9 853.9,252.6 856.9,250.8 859.9,249.3 862.9,248.1 865.9,247.1 868.9,246.4 871.9,245.9 874.9,245.6 877.9,245.4 880.9,245.3 883.9,245.4 886.9,245.5 889.9,245.7 892.9,246.1 895.9,246.5 898.9,247.0 901.9,247.7 904.9,248.7 907.9,249.8 910.9,251.4 913.9,253.4 916.9,256.0 919.9,259.4 922.9,263.6 925.9,268.5 928.9,274.0 931.9,280.2 934.9,287.0 937.9,294.3 940.9,301.9 943.9,309.8 946.9,317.7 949.9,325.6 952.9,333.4 955.9,340.9 958.9,348.1 961.9,354.8 964.9,361.1 967.9,367.0 970.9,372.6 973.9,378.0 976.9,383.6 979.9,389.5 982.9,395.9 985.9,402.9 988.9,410.7 991.9,419.2 994.9,428.3 997.9,438.0 1000.9,448.3 1003.9,458.9 1006.9,469.8 1009.9,480.9 1012.9,492.1 1015.9,503.1 1018.9,514.0 1021.9,524.7 1024.9,535.1 1027.9,545.2 1030.9,554.9 1033.9,564.2 1036.9,573.0 1039.9,581.2 1042.9,588.6 1045.9,595.2 1048.9,600.9 1051.9,605.7 1054.9,609.7 1057.9,612.9 1060.9,615.5 1063.9,617.8 1066.9,619.7 1069.9,621.4 1072.9,622.8 1075.9,623.9 1078.9,624.7 1081.9,625.4 1084.9,625.8 1087.9,626.0 1090.9,626.1 1093.9,626.1 1096.9,626.0 1099.9,625.7 1102.9,625.4 1105.9,625.1 1108.9,624.6 1111.9,624.1 1114.9,623.2 1117.9,621.8 1120.9,619.9 1123.9,617.2 1126.9,613.7 1129.9,609.2 1132.9,603.7 1135.9,597.0 1138.9,589.3 1141.9,580.9 1144.9,571.8 1147.9,562.2 1150.9,552.2 1153.9,542.1 1156.9,531.9 1159.9,521.8 1162.9,511.9 1165.9,502.5 1168.9,493.6 1171.9,485.6 1174.9,478.3 1177.9,471.9 1180.9,466.4 1183.9,461.9 1186.9,458.2 1189.9,455.0 1192.9,452.1 1195.9,449.3 1198.9,446.4 1201.9,443.3 1204.9,440.0 1207.9,436.2 1210.9,432.1 1213.9,427.6 1216.9,422.8 1219.9,417.7 1222.9,412.5 1225.9,407.2 1228.9,402.0 1231.9,397.0 1234.9,392.2 1237.9,387.8 1240.9,383.9 1243.9,380.5 1246.9,377.7 1249.9,375.6 1252.9,374.2 1255.9,373.4 1258.9,373.1 1261.9,373.5 1264.9,374.3 1267.9,375.6 1270.9,377.3 1273.9,379.4 1276.9,381.7 1279.9,384.3 1282.9,387.0 1285.9,390.0 1288.9,393.2 1291.9,396.5 1294.9,400.1 1297.9,403.9 1300.9,407.9 1303.9,412.0 1306.9,416.4 1309.9,420.8 1312.9,425.2 1315.9,429.6 1318.9,434.1 1321.9,438.7 1324.9,443.5 1327.9,448.7 1330.9,454.3 1333.9,460.5 1336.9,467.2 1339.9,474.7 1342.9,482.8 1345.9,491.5 1348.9,501.0 1351.9,511.1 1354.9,521.7 1357.9,532.7 1360.9,544.1 1363.9,555.7 1366.9,567.5 1369.9,579.2 1372.9,590.9 1375.9,602.3 1378.9,613.5 1381.9,624.4 1384.9,634.9 1387.9,644.9 1390.9,654.4 1393.9,663.3 1396.9,671.7 1399.9,679.6 1402.9,687.1 1405.9,694.1 1408.9,700.8 1411.9,707.2 1414.9,713.4 1417.9,719.4 1420.9,725.3 1423.9,731.1 1426.9,736.8 1429.9,742.5 1432.9,748.1 1435.9,753.7 1438.9,759.3 1441.9,764.9 1444.9,770.4 1447.9,776.0 1450.9,781.5 1453.9,787.0 1456.9,792.4 1459.9,797.7 1462.9,802.9 1465.9,808.1 1468.9,813.0 1471.9,817.7 1474.9,822.1 1477.9,826.2 1480.9,830.0 1483.9,833.5 1486.9,836.8 1489.9,840.0 1492.9,843.0 1495.9,845.9 1498.9,848.7 1501.9,851.5 1504.9,854.2 1507.9,856.9 1510.9,859.6 1513.9,862.4 1516.9,865.2 1519.9,868.2 1522.9,871.3 1525.9,874.6 1528.9,878.1 1531.9,881.8 1534.9,885.7 1537.9,889.9 1540.9,894.3 1543.9,899.0 1546.9,903.8 1549.9,908.7 1552.9,913.9 1555.9,919.1 1558.9,924.5 1561.9,929.9 1564.9,935.4 1567.9,941.0 1570.9,946.6 1573.9,952.3 1576.9,957.9 1579.9,963.5 1582.9,969.1 1585.9,974.7 1588.9,980.2 1591.9,985.7 1594.9,991.1 1597.9,996.6 1600.9,1002.0 1603.9,1007.4 1606.9,1012.9 1609.9,1018.4 1612.9,1024.0 1615.9,1029.6 1618.9,1035.3 1621.9,1041.1 1624.9,1047.0 1627.9,1052.9 1630.9,1058.9 1633.9,1064.9 1636.9,1070.9 1639.9,1077.0 1642.9,1083.1 1645.9,1089.2 1648.9,1095.2 1651.9,1101.3 1654.9,1107.3 1657.9,1113.3 1660.9,1119.2 1663.9,1124.9 1666.9,1130.5 1669.9,1136.0 1672.9,1141.3 1675.9,1146.4 1678.9,1151.3 1681.9,1156.0 1684.9,1160.5 1687.9,1164.7 1690.9,1168.8 1693.9,1172.6 1696.9,1176.3 1699.9,1179.8 1702.9,1183.1 1705.9,1186.3 1708.9,1189.3 1711.9,1192.3 1714.9,1195.2 1717.9,1198.1 1720.9,1201.0 1723.9,1203.9 1726.9,1206.9 1729.9,1209.9 1732.9,1212.9 1735.9,1216.1 1738.9,1219.3 1741.9,1222.6 1744.9,1225.8 1747.9,1228.9 1750.9,1231.9 1753.9,1234.7 1756.9,1237.3 1759.9,1239.7 1762.9,1241.8 1765.9,1243.6 1768.9,1245.2 1771.9,1246.5 1774.9,1247.6 1777.9,1248.5 1780.9,1249.1 1783.9,1249.6 1786.9,1250.0 1789.9,1250.3 1792.9,1250.7 1795.9,1251.1 1798.9,1251.6 1801.9,1252.3 1804.9,1253.2 1807.9,1254.4 1810.9,1255.7 1813.9,1257.3 1816.9,1259.0 1819.9,1260.8 1822.9,1262.6 1825.9,1264.5 1828.9,1266.3 1831.9,1268.0 1834.9,1269.7 1837.9,1271.3 1840.9,1272.9 1843.9,1274.3 1846.9,1275.8 1849.9,1277.2 1852.9,1278.6 1855.9,1280.1 1858.9,1281.6 1861.9,1283.3 1864.9,1285.0 1867.9,1286.9 1870.9,1289.0 1873.9,1291.2 1876.9,1293.6 1879.9,1296.3 1882.9,1299.1 1885.9,1302.3 1888.9,1305.8 1891.9,1309.6 1894.9,1313.7 1897.9,1318.1 1900.9,1322.9 1903.9,1327.9 1906.9,1333.3 1909.9,1338.9 1912.9,1344.8 1915.9,1350.9 1918.9,1357.2 1921.9,1363.7 1924.9,1370.2 1927.9,1376.8 1930.9,1383.4 1933.9,1390.0 1936.9,1396.5 1939.9,1402.9 1942.9,1409.2 1945.9,1415.4 1948.9,1421.4 1951.9,1427.4 1954.9,1433.2 1957.9,1439.0 1960.9,1444.9 1963.9,1450.8 1966.9,1456.9 1969.9,1463.2 1972.9,1469.8 1975.9,1476.5 1978.9,1483.6 1981.9,1490.9 1984.9,1498.5 1987.9,1506.2 1990.9,1514.2 1993.9,1522.2 1996.9,1530.2 1999.9,1538.3 2002.9,1546.2 2005.9,1554.1 2008.9,1561.8 2011.9,1569.2 2014.9,1576.4 2017.9,1583.4 2020.9,1590.0 2023.9,1596.2 2026.9,1602.1 2029.9,1607.7 2032.9,1612.9 2035.9,1617.8 2038.9,1622.4 2041.9,1626.8 2044.9,1631.1 2047.9,1635.1 2050.9,1639.1 2053.9,1643.0 2056.9,1646.7 2059.9,1650.4 2062.9,1654.0 2065.9,1657.6 2068.9,1661.0 2071.9,1664.4 2074.9,1667.7 2077.9,1670.9 2080.9,1674.0 2083.9,1676.9 2086.9,1679.8 2089.9,1682.5 2092.9,1685.1 2095.9,1687.5 2098.9,1689.6 2101.9,1691.6 2104.9,1693.3 2107.9,1694.8 2110.9,1695.9 2113.9,1696.9 2116.9,1697.5 2119.9,1698.0 2122.9,1698.3 2125.9,1698.4 2128.9,1698.4 2131.9,1698.3 2134.9,1698.2 2137.9,1698.1 2140.9,1698.0 2143.9,1698.1 2146.9,1698.2 2149.9,1698.6 2152.9,1699.2 2155.9,1700.1 2158.9,1701.2 2161.9,1702.5 2164.9,1704.2 2167.9,1706.0 2170.9,1708.1 2173.9,1710.3 2176.9,1712.6 2179.9,1714.9 2182.9,1717.2 2185.9,1719.5 2188.9,1721.7 2191.9,1723.9 2194.9,1726.1 2197.9,1728.2 2200.9,1730.3 2203.9,1732.4 2206.9,1734.5 2209.9,1736.6 2212.9,1738.8 2215.9,1741.1 2218.9,1743.4 2221.9,1745.9 2224.9,1748.5 2227.9,1751.2 2230.9,1754.1 2233.9,1757.1 2236.9,1760.1 2239.9,1763.3 2242.9,1766.5 2245.9,1769.8 2248.9,1773.1 2251.9,1776.5 2254.9,1779.9 2257.9,1783.4 2260.9,1786.9 2263.9,1790.5 2266.9,1794.1 2269.9,1797.8 2272.9,1801.5 2275.9,1805.3 2278.9,1809.1 2281.9,1813.0 2284.9,1816.9 2287.9,1820.9 2290.9,1825.0 2293.9,1829.1 2296.9,1833.3 2299.9,1837.7 2302.9,1842.1 2305.9,1846.7 2308.9,1851.4 2311.9,1856.3 2314.9,1861.3 2317.9,1866.4 2320.9,1871.6 2323.9,1876.9 2326.9,1882.3 2329.9,1887.7 2332.9,1893.1 2335.9,1898.4 2338.9,1903.8 2341.9,1909.1 2344.9,1914.5 2347.9,1919.8 2350.9,1922.8 2353.9,1922.8 2356.9,1922.8 2359.9,1922.8 2362.9,1922.8 2365.9,1922.8 2368.9,1922.8 2371.9,1922.8 2374.9,1922.8 2376.3,1922.8 2376.3,1922.8 2374.9,1922.8 2371.9,1922.8 2368.9,1922.8 2365.9,1922.8 2362.9,1922.8 2359.9,1922.8 2356.9,1922.8 2353.9,1922.8 2350.9,1922.8 2347.9,1922.8 2344.9,1922.8 2341.9,1922.8 2338.9,1922.8 2335.9,1922.8 2332.9,1922.8 2329.9,1922.8 2326.9,1922.8 2323.9,1922.8 2320.9,1922.8 2317.9,1922.8 2314.9,1922.8 2311.9,1922.8 2308.9,1922.8 2305.9,1922.8 2302.9,1922.8 2299.9,1922.8 2296.9,1922.8 2293.9,1922.8 2290.9,1922.8 2287.9,1922.8 2284.9,1922.8 2281.9,1922.8 2278.9,1922.8 2275.9,1922.8 2272.9,1922.8 2269.9,1921.4 2266.9,1919.2 2263.9,1917.0 2260.9,1914.7 2257.9,1912.5 2254.9,1910.2 2251.9,1907.9 2248.9,1905.6 2245.9,1903.3 2242.9,1901.0 2239.9,1898.8 2236.9,1896.6 2233.9,1894.5 2230.9,1892.6 2227.9,1890.8 2224.9,1889.1 2221.9,1887.5 2218.9,1886.2 2215.9,1884.9 2212.9,1883.8 2209.9,1882.8 2206.9,1881.9 2203.9,1881.0 2200.9,1880.1 2197.9,1879.3 2194.9,1878.5 2191.9,1877.7 2188.9,1876.9 2185.9,1876.0 2182.9,1875.2 2179.9,1874.3 2176.9,1873.5 2173.9,1872.8 2170.9,1872.2 2167.9,1871.8 2164.9,1871.5 2161.9,1871.5 2158.9,1871.7 2155.9,1872.2 2152.9,1873.0 2149.9,1874.0 2146.9,1875.2 2143.9,1876.6 2140.9,1878.2 2137.9,1879.9 2134.9,1881.6 2131.9,1883.4 2128.9,1885.2 2125.9,1886.9 2122.9,1888.5 2119.9,1889.9 2116.9,1891.2 2113.9,1892.2 2110.9,1893.0 2107.9,1893.6 2104.9,1893.8 2101.9,1893.9 2098.9,1893.8 2095.9,1893.7 2092.9,1893.4 2089.9,1893.3 2086.9,1893.1 2083.9,1893.1 2080.9,1893.2 2077.9,1893.4 2074.9,1893.7 2071.9,1894.0 2068.9,1894.4 2065.9,1894.7 2062.9,1895.0 2059.9,1895.1 2056.9,1895.0 2053.9,1894.7 2050.9,1894.1 2047.9,1893.2 2044.9,1892.0 2041.9,1890.4 2038.9,1888.4 2035.9,1885.9 2032.9,1883.0 2029.9,1879.6 2026.9,1875.7 2023.9,1871.3 2020.9,1866.5 2017.9,1861.2 2014.9,1855.6 2011.9,1849.6 2008.9,1843.4 2005.9,1836.9 2002.9,1830.3 1999.9,1823.5 1996.9,1816.7 1993.9,1809.9 1990.9,1803.0 1987.9,1796.2 1984.9,1789.5 1981.9,1782.8 1978.9,1776.3 1975.9,1769.8 1972.9,1763.5 1969.9,1757.3 1966.9,1751.2 1963.9,1745.1 1960.9,1739.0 1957.9,1732.8 1954.9,1726.5 1951.9,1720.0 1948.9,1713.4 1945.9,1706.5 1942.9,1699.4 1939.9,1692.0 1936.9,1684.4 1933.9,1676.7 1930.9,1668.9 1927.9,1661.0 1924.9,1653.1 1921.9,1645.2 1918.9,1637.3 1915.9,1629.5 1912.9,1621.8 1909.9,1614.3 1906.9,1607.0 1903.9,1600.0 1900.9,1593.2 1897.9,1586.9 1894.9,1581.0 1891.9,1575.5 1888.9,1570.4 1885.9,1565.5 1882.9,1560.8 1879.9,1556.2 1876.9,1551.7 1873.9,1547.2 1870.9,1542.8 1867.9,1538.5 1864.9,1534.3 1861.9,1530.2 1858.9,1526.1 1855.9,1522.2 1852.9,1518.3 1849.9,1514.6 1846.9,1510.9 1843.9,1507.3 1840.9,1503.9 1837.9,1500.5 1834.9,1497.2 1831.9,1494.0 1828.9,1491.0 1825.9,1488.0 1822.9,1485.2 1819.9,1482.5 1816.9,1480.1 1813.9,1477.9 1810.9,1475.9 1807.9,1474.2 1804.9,1472.8 1801.9,1471.6 1798.9,1470.7 1795.9,1470.0 1792.9,1469.5 1789.9,1469.0 1786.9,1468.7 1783.9,1468.3 1780.9,1467.8 1777.9,1467.3 1774.9,1466.6 1771.9,1465.7 1768.9,1464.6 1765.9,1463.2 1762.9,1461.7 1759.9,1460.1 1756.9,1458.3 1753.9,1456.5 1750.9,1454.6 1747.9,1452.9 1744.9,1451.2 1741.9,1449.7 1738.9,1448.5 1735.9,1447.4 1732.9,1446.4 1729.9,1445.6 1726.9,1444.8 1723.9,1444.1 1720.9,1443.3 1717.9,1442.5 1714.9,1441.5 1711.9,1440.4 1708.9,1439.2 1705.9,1437.6 1702.9,1435.9 1699.9,1434.0 1696.9,1431.8 1693.9,1429.4 1690.9,1426.7 1687.9,1423.8 1684.9,1420.7 1681.9,1417.3 1678.9,1413.6 1675.9,1409.7 1672.9,1405.6 1669.9,1401.3 1666.9,1396.7 1663.9,1392.0 1660.9,1387.2 1657.9,1382.3 1654.9,1377.2 1651.9,1372.1 1648.9,1367.0 1645.9,1361.9 1642.9,1356.8 1639.9,1351.7 1636.9,1346.7 1633.9,1341.7 1630.9,1336.9 1627.9,1332.1 1624.9,1327.4 1621.9,1322.8 1618.9,1318.2 1615.9,1313.7 1612.9,1309.1 1609.9,1304.5 1606.9,1299.9 1603.9,1295.1 1600.9,1290.3 1597.9,1285.3 1594.9,1280.1 1591.9,1274.8 1588.9,1269.4 1585.9,1263.8 1582.9,1258.2 1579.9,1252.6 1576.9,1246.9 1573.9,1241.3 1570.9,1235.7 1567.9,1230.2 1564.9,1224.8 1561.9,1219.6 1558.9,1214.5 1555.9,1209.6 1552.9,1204.8 1549.9,1200.3 1546.9,1196.0 1543.9,1191.8 1540.9,1187.8 1537.9,1184.0 1534.9,1180.2 1531.9,1176.6 1528.9,1173.1 1525.9,1169.6 1522.9,1166.2 1519.9,1162.9 1516.9,1159.6 1513.9,1156.3 1510.9,1153.0 1507.9,1149.8 1504.9,1146.5 1501.9,1143.3 1498.9,1140.0 1495.9,1136.8 1492.9,1133.5 1489.9,1130.2 1486.9,1126.8 1483.9,1123.5 1480.9,1120.0 1477.9,1116.5 1474.9,1113.0 1471.9,1109.3 1468.9,1105.6 1465.9,1101.9 1462.9,1098.2 1459.9,1094.4 1456.9,1090.7 1453.9,1087.0 1450.9,1083.3 1447.9,1079.6 1444.9,1076.0 1441.9,1072.3 1438.9,1068.7 1435.9,1065.1 1432.9,1061.6 1429.9,1058.0 1426.9,1054.5 1423.9,1050.9 1420.9,1047.4 1417.9,1043.9 1414.9,1040.4 1411.9,1036.8 1408.9,1033.2 1405.9,1029.6 1402.9,1025.8 1399.9,1022.0 1396.9,1018.1 1393.9,1014.0 1390.9,1009.7 1387.9,1005.2 1384.9,1000.5 1381.9,995.6 1378.9,990.6 1375.9,985.5 1372.9,980.3 1369.9,975.0 1366.9,969.7 1363.9,964.4 1360.9,959.1 1357.9,953.9 1354.9,948.8 1351.9,943.9 1348.9,939.3 1345.9,934.8 1342.9,930.7 1339.9,926.9 1336.9,923.4 1333.9,920.3 1330.9,917.6 1327.9,915.1 1324.9,913.1 1321.9,911.3 1318.9,909.7 1315.9,908.3 1312.9,907.1 1309.9,906.1 1306.9,905.0 1303.9,904.1 1300.9,903.1 1297.9,902.2 1294.9,901.2 1291.9,900.3 1288.9,899.4 1285.9,898.6 1282.9,897.9 1279.9,897.3 1276.9,896.8 1273.9,896.3 1270.9,896.0 1267.9,895.7 1264.9,895.4 1261.9,895.2 1258.9,895.1 1255.9,895.2 1252.9,895.5 1249.9,895.9 1246.9,896.6 1243.9,897.6 1240.9,898.7 1237.9,900.1 1234.9,901.7 1231.9,903.5 1228.9,905.5 1225.9,907.6 1222.9,909.7 1219.9,911.9 1216.9,914.1 1213.9,916.2 1210.9,918.2 1207.9,920.1 1204.9,921.8 1201.9,923.4 1198.9,924.9 1195.9,926.2 1192.9,927.7 1189.9,929.2 1186.9,931.1 1183.9,933.3 1180.9,935.9 1177.9,938.8 1174.9,942.1 1171.9,945.8 1168.9,949.8 1165.9,954.0 1162.9,958.3 1159.9,962.9 1156.9,967.4 1153.9,972.0 1150.9,976.6 1147.9,981.1 1144.9,985.5 1141.9,989.7 1138.9,993.5 1135.9,997.0 1132.9,1000.0 1129.9,1002.6 1126.9,1004.5 1123.9,1006.0 1120.9,1006.9 1117.9,1007.5 1114.9,1007.7 1111.9,1007.8 1108.9,1007.7 1105.9,1007.5 1102.9,1007.2 1099.9,1006.8 1096.9,1006.3 1093.9,1005.6 1090.9,1004.9 1087.9,1004.1 1084.9,1003.2 1081.9,1002.2 1078.9,1001.2 1075.9,1000.1 1072.9,998.9 1069.9,997.7 1066.9,996.5 1063.9,995.2 1060.9,993.9 1057.9,992.5 1054.9,991.0 1051.9,989.2 1048.9,987.0 1045.9,984.4 1042.9,981.4 1039.9,977.9 1036.9,973.9 1033.9,969.5 1030.9,964.8 1027.9,959.8 1024.9,954.5 1021.9,949.0 1018.9,943.4 1015.9,937.7 1012.9,932.1 1009.9,926.4 1006.9,920.7 1003.9,915.2 1000.9,909.8 997.9,904.7 994.9,899.8 991.9,895.3 988.9,891.3 985.9,887.6 982.9,884.5 979.9,881.7 976.9,879.2 973.9,876.8 970.9,874.4 967.9,871.8 964.9,869.0 961.9,866.1 958.9,863.2 955.9,860.1 952.9,857.1 949.9,854.1 946.9,851.1 943.9,848.2 940.9,845.4 937.9,842.7 934.9,840.2 931.9,837.7 928.9,835.5 925.9,833.4 922.9,831.5 919.9,829.8 916.9,828.3 913.9,827.1 910.9,826.0 907.9,825.1 904.9,824.3 901.9,823.6 898.9,822.9 895.9,822.2 892.9,821.4 889.9,820.6 886.9,819.7 883.9,818.8 880.9,817.9 877.9,817.0 874.9,816.2 871.9,815.4 868.9,814.7 865.9,814.1 862.9,813.7 859.9,813.4 856.9,813.3 853.9,813.4 850.9,813.7 847.9,814.2 844.9,815.0 841.9,816.1 838.9,817.5 835.9,819.2 832.9,821.2 829.9,823.5 826.9,826.2 823.9,829.2 820.9,832.4 817.9,835.8 814.9,839.4 811.9,843.1 808.9,846.9 805.9,850.8 802.9,854.9 799.9,859.0 796.9,863.3 793.9,867.7 790.9,872.1 787.9,876.7 784.9,881.3 781.9,885.9 778.9,890.6 775.9,895.3 772.9,900.1 769.9,905.0 766.9,909.9 763.9,914.9 760.9,920.0 757.9,925.3 754.9,930.6 751.9,936.2 748.9,941.9 745.9,947.8 742.9,954.0 739.9,960.6 736.9,967.4 733.9,974.6 730.9,982.1 727.9,989.9 724.9,997.9 721.9,1006.1 718.9,1014.5 715.9,1023.2 712.9,1032.1 709.9,1041.2 706.9,1050.3 703.9,1059.1 700.9,1067.4 697.9,1075.0 694.9,1082.0 691.9,1088.5 688.9,1094.9 685.9,1101.4 682.9,1108.1 679.9,1115.0 676.9,1122.3 673.9,1129.9 670.9,1137.9 667.9,1146.1 664.9,1154.5 661.9,1162.9 658.9,1171.2 655.9,1179.3 652.9,1187.1 649.9,1194.6 646.9,1201.8 643.9,1208.7 640.9,1215.2 637.9,1221.4 634.9,1227.3 631.9,1232.9 628.9,1238.2 625.9,1243.3 622.9,1248.2 619.9,1252.8 616.9,1257.3 613.9,1261.7 610.9,1266.0 607.9,1270.2 604.9,1274.4 601.9,1278.6 598.9,1282.8 595.9,1287.0 592.9,1291.2 589.9,1295.4 586.9,1299.6 583.9,1303.8 580.9,1307.9 577.9,1312.0 574.9,1315.9 571.9,1319.6 568.9,1323.2 565.9,1326.5 562.9,1329.7 559.9,1332.6 556.9,1335.4 553.9,1337.9 550.9,1340.3 547.9,1342.4 544.9,1344.3 541.9,1346.1 538.9,1347.7 535.9,1349.1 532.9,1350.3 529.9,1351.4 526.9,1352.5 523.9,1353.5 520.9,1354.5 517.9,1355.6 514.9,1356.8 511.9,1358.2 508.9,1359.7 505.9,1361.3 502.9,1363.0 499.9,1364.7 496.9,1366.4 493.9,1368.1 490.9,1369.7 487.9,1371.2 484.9,1372.6 481.9,1373.8 478.9,1374.7 475.9,1375.5 472.9,1376.0 469.9,1376.4 466.9,1376.6 463.9,1376.7 460.9,1376.8 457.9,1376.9 454.9,1376.9 451.9,1377.0 448.9,1377.0 445.9,1377.1 442.9,1377.3 439.9,1377.6 436.9,1378.0 433.9,1378.5 430.9,1379.2 427.9,1380.1 424.9,1381.2 421.9,1382.6 418.9,1384.2 415.9,1386.2 412.9,1388.4 409.9,1391.0 406.9,1394.0 403.9,1397.2 400.9,1400.8 397.9,1404.6 394.9,1408.5 391.9,1412.6 388.9,1416.7 385.9,1420.8 382.9,1424.9 379.9,1428.9 376.9,1432.9 373.9,1436.9 370.9,1440.7 367.9,1444.5 364.9,1448.1 361.9,1451.7 358.9,1455.2 355.9,1458.7 352.9,1462.1 349.9,1465.4 346.9,1468.7 343.9,1472.0 340.9,1475.3 337.9,1478.5 334.9,1481.7 331.9,1484.9 328.9,1488.1 325.9,1491.3 322.9,1494.4 319.9,1497.6 316.9,1500.8 313.9,1503.9 310.9,1507.0 307.9,1510.1 304.9,1513.2 301.9,1516.3 298.9,1519.4 295.9,1522.4 292.9,1525.4 289.9,1528.4 286.9,1531.4 283.9,1534.4 280.9,1537.3 277.9,1540.2 274.9,1543.1 271.9,1545.9 268.9,1548.8 265.9,1551.6 262.9,1554.3 259.9,1557.1 256.9,1559.8 253.9,1562.5 250.9,1565.1 247.9,1567.8 244.9,1570.3 241.9,1572.9 238.9,1575.4 235.9,1577.9 232.9,1580.3 229.9,1582.7 226.9,1585.1 223.9,1587.4 220.9,1589.7 217.9,1591.9 214.9,1594.1 211.9,1596.2 208.9,1598.3 205.9,1600.4 202.9,1602.4 199.9,1604.3 196.9,1606.2 193.9,1608.1 190.9,1609.9 187.9,1611.6 184.9,1613.3 181.9,1614.9 178.9,1616.5 175.9,1618.0 172.9,1619.5 169.9,1620.9 166.9,1622.2 163.9,1623.5 160.9,1624.8 157.9,1626.0 154.9,1627.1 151.9,1628.3 148.9,1629.4 145.9,1630.5 142.9,1631.6 139.9,1632.6" fill="#d3d3d3"/>
<polyline points="139.9,1431.0 141.9,1428.8 143.9,1426.6 145.9,1424.5 147.9,1422.3 149.9,1420.2 151.9,1418.0 153.9,1415.8 155.9,1413.7 157.9,1411.5 159.9,1409.4 161.9,1407.3 163.9,1405.1 165.9,1403.0 167.9,1400.8 169.9,1398.7 171.9,1396.6 173.9,1394.5 175.9,1392.3 177.9,1390.2 179.9,1388.1 181.9,1386.0 183.9,1383.9 185.9,1381.9 187.9,1379.8 189.9,1377.7 191.9,1375.7 193.9,1373.6 195.9,1371.6 197.9,1369.5 199.9,1367.5 201.9,1365.5 203.9,1363.5 205.9,1361.4 207.9,1359.4 209.9,1357.5 211.9,1355.5 213.9,1353.5 215.9,1351.5 217.9,1349.5 219.9,1347.6 221.9,1345.6 223.9,1343.7 225.9,1341.7 227.9,1339.8 229.9,1337.9 231.9,1335.9 233.9,1334.0 235.9,1332.1 237.9,1330.2 239.9,1328.3 241.9,1326.4 243.9,1324.5 245.9,1322.6 247.9,1320.7 249.9,1318.8 251.9,1316.9 253.9,1315.0 255.9,1313.1 257.9,1311.2 259.9,1309.3 261.9,1307.4 263.9,1305.5 265.9,1303.6 267.9,1301.7 269.9,1299.8 271.9,1297.9 273.9,1296.0 275.9,1294.1 277.9,1292.2 279.9,1290.3 281.9,1288.4 283.9,1286.5 285.9,1284.6 287.9,1282.7 289.9,1280.8 291.9,1278.9 293.9,1276.9 295.9,1275.0 297.9,1273.1 299.9,1271.1 301.9,1269.2 303.9,1267.3 305.9,1265.3 307.9,1263.4 309.9,1261.5 311.9,1259.5 313.9,1257.6 315.9,1255.7 317.9,1253.8 319.9,1251.9 321.9,1250.1 323.9,1248.2 325.9,1246.4 327.9,1244.6 329.9,1242.8 331.9,1241.1 333.9,1239.3 335.9,1237.6 337.9,1236.0 339.9,1234.3 341.9,1232.7 343.9,1231.0 345.9,1229.4 347.9,1227.8 349.9,1226.3 351.9,1224.7 353.9,1223.1 355.9,1221.6 357.9,1220.0 359.9,1218.5 361.9,1217.0 363.9,1215.4 365.9,1213.9 367.9,1212.4 369.9,1210.8 371.9,1209.3 373.9,1207.7 375.9,1206.2 377.9,1204.6 379.9,1203.0 381.9,1201.4 383.9,1199.8 385.9,1198.2 387.9,1196.5 389.9,1194.8 391.9,1193.1 393.9,1191.4 395.9,1189.6 397.9,1187.8 399.9,1185.9 401.9,1184.1 403.9,1182.2 405.9,1180.4 407.9,1178.6 409.9,1176.8 411.9,1175.1 413.9,1173.4 415.9,1171.8 417.9,1170.3 419.9,1168.9 421.9,1167.6 423.9,1166.4 425.9,1165.3 427.9,1164.3 429.9,1163.4 431.9,1162.5 433.9,1161.8 435.9,1161.1 437.9,1160.5 439.9,1160.0 441.9,1159.5 443.9,1159.1 445.9,1158.7 447.9,1158.4 449.9,1158.0 451.9,1157.7 453.9,1157.4 455.9,1157.0 457.9,1156.6 459.9,1156.2 461.9,1155.8 463.9,1155.3 465.9,1154.8 467.9,1154.2 469.9,1153.5 471.9,1152.8 473.9,1152.0 475.9,1151.2 477.9,1150.4 479.9,1149.4 481.9,1148.5 483.9,1147.5 485.9,1146.5 487.9,1145.4 489.9,1144.4 491.9,1143.4 493.9,1142.4 495.9,1141.5 497.9,1140.7 499.9,1139.9 501.9,1139.1 503.9,1138.4 505.9,1137.8 507.9,1137.2 509.9,1136.6 511.9,1136.1 513.9,1135.6 515.9,1135.1 517.9,1134.6 519.9,1134.1 521.9,1133.6 523.9,1133.2 525.9,1132.7 527.9,1132.1 529.9,1131.6 531.9,1130.9 533.9,1130.2 535.9,1129.5 537.9,1128.6 539.9,1127.7 541.9,1126.6 543.9,1125.5 545.9,1124.2 547.9,1122.9 549.9,1121.4 551.9,1119.9 553.9,1118.2 555.9,1116.5 557.9,1114.7 559.9,1112.9 561.9,1111.0 563.9,1109.1 565.9,1107.1 567.9,1105.1 569.9,1103.1 571.9,1101.2 573.9,1099.2 575.9,1097.2 577.9,1095.3 579.9,1093.3 581.9,1091.3 583.9,1089.3 585.9,1087.4 587.9,1085.4 589.9,1083.4 591.9,1081.3 593.9,1079.3 595.9,1077.3 597.9,1075.3 599.9,1073.3 601.9,1071.3 603.9,1069.2 605.9,1067.2 607.9,1065.2 609.9,1063.1 611.9,1061.0 613.9,1058.9 615.9,1056.7 617.9,1054.5 619.9,1052.1 621.9,1049.7 623.9,1047.1 625.9,1044.4 627.9,1041.5 629.9,1038.4 631.9,1035.2 633.9,1031.8 635.9,1028.1 637.9,1024.3 639.9,1020.2 641.9,1015.8 643.9,1011.2 645.9,1006.3 647.9,1001.2 649.9,996.0 651.9,990.7 653.9,985.3 655.9,979.8 657.9,974.2 659.9,968.7 661.9,963.3 663.9,957.9 665.9,952.6 667.9,947.4 669.9,942.3 671.9,937.2 673.9,932.3 675.9,927.4 677.9,922.7 679.9,918.0 681.9,913.5 683.9,909.1 685.9,904.7 687.9,900.5 689.9,896.2 691.9,892.0 693.9,887.9 695.9,883.7 697.9,879.4 699.9,875.1 701.9,870.8 703.9,866.3 705.9,861.7 707.9,857.0 709.9,852.1 711.9,847.1 713.9,841.9 715.9,836.4 717.9,830.7 719.9,824.8 721.9,818.7 723.9,812.5 725.9,806.1 727.9,799.7 729.9,793.3 731.9,786.8 733.9,780.4 735.9,774.1 737.9,767.9 739.9,761.8 741.9,755.8 743.9,750.0 745.9,744.5 747.9,739.1 749.9,734.0 751.9,729.1 753.9,724.5 755.9,720.1 757.9,715.7 759.9,711.5 761.9,707.4 763.9,703.2 765.9,699.0 767.9,694.9 769.9,690.7 771.9,686.5 773.9,682.2 775.9,677.9 777.9,673.5 779.9,669.1 781.9,664.6 783.9,660.2 785.9,655.6 787.9,651.1 789.9,646.6 791.9,642.0 793.9,637.5 795.9,632.9 797.9,628.4 799.9,623.9 801.9,619.4 803.9,615.0 805.9,610.6 807.9,606.2 809.9,602.0 811.9,597.9 813.9,593.9 815.9,590.0 817.9,586.3 819.9,582.7 821.9,579.4 823.9,576.2 825.9,573.1 827.9,570.3 829.9,567.7 831.9,565.3 833.9,563.0 835.9,561.0 837.9,559.1 839.9,557.4 841.9,555.9 843.9,554.5 845.9,553.2 847.9,552.1 849.9,551.1 851.9,550.3 853.9,549.5 855.9,548.8 857.9,548.3 859.9,547.8 861.9,547.4 863.9,547.1 865.9,546.8 867.9,546.7 869.9,546.6 871.9,546.5 873.9,546.6 875.9,546.7 877.9,546.9 879.9,547.1 881.9,547.3 883.9,547.6 885.9,547.9 887.9,548.3 889.9,548.6 891.9,549.0 893.9,549.4 895.9,549.8 897.9,550.2 899.9,550.7 901.9,551.3 903.9,551.9 905.9,552.6 907.9,553.3 909.9,554.2 911.9,555.2 913.9,556.3 915.9,557.7 917.9,559.2 919.9,560.9 921.9,562.9 923.9,565.0 925.9,567.2 927.9,569.7 929.9,572.3 931.9,575.0 933.9,577.9 935.9,581.0 937.9,584.1 939.9,587.4 941.9,590.8 943.9,594.3 945.9,597.8 947.9,601.4 949.9,604.9 951.9,608.5 953.9,612.1 955.9,615.6 957.9,619.1 959.9,622.6 961.9,625.9 963.9,629.2 965.9,632.3 967.9,635.4 969.9,638.3 971.9,641.2 973.9,644.1 975.9,646.9 977.9,649.7 979.9,652.5 981.9,655.5 983.9,658.7 985.9,662.1 987.9,665.8 989.9,669.7 991.9,673.8 993.9,678.2 995.9,682.9 997.9,687.7 999.9,692.7 1001.9,697.9 1003.9,703.2 1005.9,708.6 1007.9,714.0 1009.9,719.4 1011.9,724.8 1013.9,730.0 1015.9,735.1 1017.9,740.0 1019.9,744.9 1021.9,749.7 1023.9,754.5 1025.9,759.3 1027.9,764.2 1029.9,768.9 1031.9,773.6 1033.9,778.1 1035.9,782.5 1037.9,786.6 1039.9,790.6 1041.9,794.3 1043.9,797.7 1045.9,800.9 1047.9,803.8 1049.9,806.5 1051.9,808.9 1053.9,811.2 1055.9,813.2 1057.9,815.1 1059.9,816.8 1061.9,818.4 1063.9,819.9 1065.9,821.3 1067.9,822.7 1069.9,823.9 1071.9,825.2 1073.9,826.3 1075.9,827.4 1077.9,828.5 1079.9,829.5 1081.9,830.4 1083.9,831.3 1085.9,832.1 1087.9,832.9 1089.9,833.6 1091.9,834.3 1093.9,835.0 1095.9,835.6 1097.9,836.2 1099.9,836.7 1101.9,837.1 1103.9,837.4 1105.9,837.6 1107.9,837.7 1109.9,837.7 1111.9,837.6 1113.9,837.4 1115.9,837.0 1117.9,836.5 1119.9,835.8 1121.9,834.9 1123.9,833.8 1125.9,832.4 1127.9,830.8 1129.9,828.8 1131.9,826.6 1133.9,824.1 1135.9,821.4 1137.9,818.3 1139.9,815.1 1141.9,811.6 1143.9,807.9 1145.9,804.1 1147.9,800.1 1149.9,796.1 1151.9,791.9 1153.9,787.7 1155.9,783.4 1157.9,779.1 1159.9,774.8 1161.9,770.5 1163.9,766.3 1165.9,762.1 1167.9,758.0 1169.9,754.1 1171.9,750.3 1173.9,746.7 1175.9,743.3 1177.9,740.1 1179.9,737.2 1181.9,734.5 1183.9,732.1 1185.9,729.9 1187.9,728.0 1189.9,726.3 1191.9,724.8 1193.9,723.5 1195.9,722.2 1197.9,721.0 1199.9,719.7 1201.9,718.3 1203.9,716.8 1205.9,715.2 1207.9,713.5 1209.9,711.6 1211.9,709.7 1213.9,707.6 1215.9,705.4 1217.9,703.1 1219.9,700.8 1221.9,698.4 1223.9,696.0 1225.9,693.7 1227.9,691.3 1229.9,689.1 1231.9,686.8 1233.9,684.7 1235.9,682.7 1237.9,680.8 1239.9,679.1 1241.9,677.5 1243.9,676.1 1245.9,675.0 1247.9,674.0 1249.9,673.2 1251.9,672.6 1253.9,672.2 1255.9,672.0 1257.9,671.9 1259.9,672.1 1261.9,672.3 1263.9,672.7 1265.9,673.2 1267.9,673.8 1269.9,674.6 1271.9,675.4 1273.9,676.2 1275.9,677.2 1277.9,678.2 1279.9,679.3 1281.9,680.5 1283.9,681.7 1285.9,683.0 1287.9,684.3 1289.9,685.7 1291.9,687.1 1293.9,688.6 1295.9,690.1 1297.9,691.6 1299.9,693.2 1301.9,694.8 1303.9,696.4 1305.9,698.0 1307.9,699.6 1309.9,701.2 1311.9,702.9 1313.9,704.5 1315.9,706.2 1317.9,707.8 1319.9,709.6 1321.9,711.3 1323.9,713.2 1325.9,715.2 1327.9,717.3 1329.9,719.6 1331.9,722.0 1333.9,724.7 1335.9,727.5 1337.9,730.6 1339.9,733.8 1341.9,737.3 1343.9,741.0 1345.9,744.9 1347.9,749.1 1349.9,753.4 1351.9,757.8 1353.9,762.5 1355.9,767.3 1357.9,772.2 1359.9,777.2 1361.9,782.3 1363.9,787.4 1365.9,792.6 1367.9,797.8 1369.9,803.0 1371.9,808.2 1373.9,813.4 1375.9,818.5 1377.9,823.5 1379.9,828.5 1381.9,833.3 1383.9,838.1 1385.9,842.7 1387.9,847.2 1389.9,851.5 1391.9,855.8 1393.9,859.9 1395.9,863.8 1397.9,867.7 1399.9,871.4 1401.9,875.0 1403.9,878.6 1405.9,882.1 1407.9,885.5 1409.9,888.8 1411.9,892.1 1413.9,895.4 1415.9,898.6 1417.9,901.8 1419.9,905.0 1421.9,908.2 1423.9,911.3 1425.9,914.4 1427.9,917.6 1429.9,920.6 1431.9,923.7 1433.9,926.8 1435.9,929.8 1437.9,932.8 1439.9,935.9 1441.9,938.9 1443.9,941.9 1445.9,944.9 1447.9,947.9 1449.9,950.9 1451.9,953.8 1453.9,956.8 1455.9,959.7 1457.9,962.7 1459.9,965.6 1461.9,968.4 1463.9,971.3 1465.9,974.1 1467.9,976.9 1469.9,979.6 1471.9,982.3 1473.9,985.0 1475.9,987.6 1477.9,990.1 1479.9,992.6 1481.9,995.1 1483.9,997.5 1485.9,999.8 1487.9,1002.1 1489.9,1004.3 1491.9,1006.5 1493.9,1008.6 1495.9,1010.7 1497.9,1012.8 1499.9,1014.8 1501.9,1016.8 1503.9,1018.9 1505.9,1020.9 1507.9,1022.9 1509.9,1024.9 1511.9,1026.9 1513.9,1029.0 1515.9,1031.1 1517.9,1033.2 1519.9,1035.4 1521.9,1037.6 1523.9,1039.8 1525.9,1042.1 1527.9,1044.5 1529.9,1046.8 1531.9,1049.3 1533.9,1051.7 1535.9,1054.2 1537.9,1056.8 1539.9,1059.3 1541.9,1062.0 1543.9,1064.7 1545.9,1067.4 1547.9,1070.2 1549.9,1073.1 1551.9,1076.0 1553.9,1079.0 1555.9,1082.0 1557.9,1085.1 1559.9,1088.3 1561.9,1091.5 1563.9,1094.7 1565.9,1098.0 1567.9,1101.3 1569.9,1104.6 1571.9,1107.9 1573.9,1111.3 1575.9,1114.6 1577.9,1118.0 1579.9,1121.3 1581.9,1124.7 1583.9,1128.0 1585.9,1131.3 1587.9,1134.6 1589.9,1137.8 1591.9,1141.1 1593.9,1144.3 1595.9,1147.4 1597.9,1150.6 1599.9,1153.7 1601.9,1156.8 1603.9,1159.9 1605.9,1162.9 1607.9,1166.0 1609.9,1169.0 1611.9,1172.0 1613.9,1175.0 1615.9,1178.0 1617.9,1181.0 1619.9,1184.0 1621.9,1187.1 1623.9,1190.1 1625.9,1193.2 1627.9,1196.3 1629.9,1199.4 1631.9,1202.6 1633.9,1205.7 1635.9,1209.0 1637.9,1212.3 1639.9,1215.6 1641.9,1218.9 1643.9,1222.3 1645.9,1225.7 1647.9,1229.1 1649.9,1232.5 1651.9,1236.0 1653.9,1239.4 1655.9,1242.9 1657.9,1246.3 1659.9,1249.7 1661.9,1253.1 1663.9,1256.5 1665.9,1259.9 1667.9,1263.2 1669.9,1266.5 1671.9,1269.7 1673.9,1272.8 1675.9,1275.9 1677.9,1278.9 1679.9,1281.8 1681.9,1284.6 1683.9,1287.3 1685.9,1289.9 1687.9,1292.3 1689.9,1294.6 1691.9,1296.9 1693.9,1298.9 1695.9,1300.9 1697.9,1302.7 1699.9,1304.5 1701.9,1306.1 1703.9,1307.6 1705.9,1309.0 1707.9,1310.3 1709.9,1311.6 1711.9,1312.7 1713.9,1313.8 1715.9,1314.8 1717.9,1315.8 1719.9,1316.8 1721.9,1317.8 1723.9,1318.7 1725.9,1319.7 1727.9,1320.7 1729.9,1321.7 1731.9,1322.8 1733.9,1324.0 1735.9,1325.2 1737.9,1326.6 1739.9,1328.1 1741.9,1329.8 1743.9,1331.7 1745.9,1333.7 1747.9,1335.7 1749.9,1337.8 1751.9,1339.8 1753.9,1341.8 1755.9,1343.7 1757.9,1345.5 1759.9,1347.1 1761.9,1348.7 1763.9,1350.1 1765.9,1351.3 1767.9,1352.5 1769.9,1353.5 1771.9,1354.4 1773.9,1355.2 1775.9,1355.9 1777.9,1356.5 1779.9,1357.1 1781.9,1357.6 1783.9,1358.1 1785.9,1358.6 1787.9,1359.1 1789.9,1359.6 1791.9,1360.2 1793.9,1360.7 1795.9,1361.4 1797.9,1362.1 1799.9,1362.8 1801.9,1363.7 1803.9,1364.6 1805.9,1365.7 1807.9,1366.8 1809.9,1368.0 1811.9,1369.3 1813.9,1370.7 1815.9,1372.2 1817.9,1373.7 1819.9,1375.3 1821.9,1377.0 1823.9,1378.7 1825.9,1380.5 1827.9,1382.3 1829.9,1384.1 1831.9,1385.9 1833.9,1387.7 1835.9,1389.5 1837.9,1391.3 1839.9,1393.2 1841.9,1395.0 1843.9,1396.8 1845.9,1398.6 1847.9,1400.3 1849.9,1402.1 1851.9,1403.9 1853.9,1405.7 1855.9,1407.5 1857.9,1409.4 1859.9,1411.2 1861.9,1413.1 1863.9,1415.1 1865.9,1417.1 1867.9,1419.2 1869.9,1421.3 1871.9,1423.5 1873.9,1425.8 1875.9,1428.2 1877.9,1430.7 1879.9,1433.3 1881.9,1436.1 1883.9,1438.9 1885.9,1441.8 1887.9,1444.9 1889.9,1448.0 1891.9,1451.2 1893.9,1454.5 1895.9,1457.9 1897.9,1461.4 1899.9,1465.0 1901.9,1468.8 1903.9,1472.6 1905.9,1476.6 1907.9,1480.7 1909.9,1485.0 1911.9,1489.3 1913.9,1493.7 1915.9,1498.2 1917.9,1502.7 1919.9,1507.2 1921.9,1511.8 1923.9,1516.3 1925.9,1520.8 1927.9,1525.3 1929.9,1529.7 1931.9,1534.1 1933.9,1538.5 1935.9,1542.8 1937.9,1547.0 1939.9,1551.2 1941.9,1555.3 1943.9,1559.4 1945.9,1563.3 1947.9,1567.2 1949.9,1571.0 1951.9,1574.8 1953.9,1578.5 1955.9,1582.1 1957.9,1585.7 1959.9,1589.3 1961.9,1592.9 1963.9,1596.5 1965.9,1600.1 1967.9,1603.7 1969.9,1607.4 1971.9,1611.2 1973.9,1615.1 1975.9,1619.0 1977.9,1623.1 1979.9,1627.3 1981.9,1631.6 1983.9,1635.9 1985.9,1640.4 1987.9,1644.9 1989.9,1649.5 1991.9,1654.2 1993.9,1658.9 1995.9,1663.6 1997.9,1668.4 1999.9,1673.1 2001.9,1677.9 2003.9,1682.6 2005.9,1687.2 2007.9,1691.8 2009.9,1696.3 2011.9,1700.7 2013.9,1705.0 2015.9,1709.2 2017.9,1713.2 2019.9,1717.1 2021.9,1720.8 2023.9,1724.4 2025.9,1727.8 2027.9,1731.0 2029.9,1734.0 2031.9,1736.8 2033.9,1739.5 2035.9,1742.0 2037.9,1744.4 2039.9,1746.5 2041.9,1748.6 2043.9,1750.4 2045.9,1752.2 2047.9,1753.7 2049.9,1755.2 2051.9,1756.6 2053.9,1757.8 2055.9,1758.9 2057.9,1760.0 2059.9,1761.0 2061.9,1761.9 2063.9,1762.7 2065.9,1763.5 2067.9,1764.3 2069.9,1765.1 2071.9,1765.8 2073.9,1766.6 2075.9,1767.3 2077.9,1768.1 2079.9,1768.9 2081.9,1769.7 2083.9,1770.6 2085.9,1771.5 2087.9,1772.4 2089.9,1773.3 2091.9,1774.3 2093.9,1775.2 2095.9,1776.0 2097.9,1776.9 2099.9,1777.7 2101.9,1778.4 2103.9,1779.0 2105.9,1779.6 2107.9,1780.0 2109.9,1780.3 2111.9,1780.6 2113.9,1780.7 2115.9,1780.7 2117.9,1780.6 2119.9,1780.4 2121.9,1780.2 2123.9,1779.8 2125.9,1779.5 2127.9,1779.0 2129.9,1778.6 2131.9,1778.1 2133.9,1777.5 2135.9,1777.0 2137.9,1776.6 2139.9,1776.1 2141.9,1775.7 2143.9,1775.3 2145.9,1775.0 2147.9,1774.8 2149.9,1774.7 2151.9,1774.7 2153.9,1774.8 2155.9,1775.0 2157.9,1775.4 2159.9,1775.9 2161.9,1776.5 2163.9,1777.3 2165.9,1778.1 2167.9,1779.1 2169.9,1780.1 2171.9,1781.2 2173.9,1782.4 2175.9,1783.6 2177.9,1784.8 2179.9,1786.0 2181.9,1787.2 2183.9,1788.4 2185.9,1789.7 2187.9,1790.9 2189.9,1792.1 2191.9,1793.4 2193.9,1794.6 2195.9,1795.8 2197.9,1797.0 2199.9,1798.2 2201.9,1799.4 2203.9,1800.6 2205.9,1801.8 2207.9,1803.1 2209.9,1804.4 2211.9,1805.7 2213.9,1807.0 2215.9,1808.3 2217.9,1809.7 2219.9,1811.2 2221.9,1812.6 2223.9,1814.1 2225.9,1815.7 2227.9,1817.3 2229.9,1819.0 2231.9,1820.7 2233.9,1822.4 2235.9,1824.2 2237.9,1826.0 2239.9,1827.9 2241.9,1829.7 2243.9,1831.7 2245.9,1833.6 2247.9,1835.6 2249.9,1837.6 2251.9,1839.6 2253.9,1841.6 2255.9,1843.7 2257.9,1845.8 2259.9,1847.9 2261.9,1850.0 2263.9,1852.2 2265.9,1854.4 2267.9,1856.6 2269.9,1858.8 2271.9,1861.1 2273.9,1863.3 2275.9,1865.6 2277.9,1868.0 2279.9,1870.3 2281.9,1872.7 2283.9,1875.1 2285.9,1877.5 2287.9,1879.9 2289.9,1882.3 2291.9,1884.8 2293.9,1887.3 2295.9,1889.8 2297.9,1892.3 2299.9,1894.8 2301.9,1897.3 2303.9,1899.9 2305.9,1902.5 2307.9,1905.0 2309.9,1907.6 2311.9,1910.2 2313.9,1912.8 2315.9,1915.4 2317.9,1918.0 2319.9,1920.6 2321.9,1922.8 2323.9,1922.8 2325.9,1922.8 2327.9,1922.8 2329.9,1922.8 2331.9,1922.8 2333.9,1922.8 2335.9,1922.8 2337.9,1922.8 2339.9,1922.8 2341.9,1922.8 2343.9,1922.8 2345.9,1922.8 2347.9,1922.8 2349.9,1922.8 2351.9,1922.8 2353.9,1922.8 2355.9,1922.8 2357.9,1922.8 2359.9,1922.8 2361.9,1922.8 2363.9,1922.8 2365.9,1922.8 2367.9,1922.8 2369.9,1922.8 2371.9,1922.8 2373.9,1922.8 2375.9,1922.8 2376.3,1922.8" fill="none" stroke="#7f7f7f" stroke-width="3.1" stroke-linejoin="round"/>
<polyline points="140.0,2076.4 146.1,1811.6 152.3,2019.9 158.4,2452.1 164.6,2342.1 170.7,2263.7 176.9,2224.0 183.0,1905.1 189.2,1650.1 195.3,1866.4 201.4,1970.4 207.6,1967.8 213.7,1951.6 219.9,1905.7 226.0,1775.9 232.2,1814.2 238.3,1776.9 244.5,1969.8 250.6,2011.7 256.8,2070.2 262.9,2097.6 269.0,1966.5 275.2,1946.7 281.3,1904.4 287.5,1881.3 293.6,1873.0 299.8,1879.6 305.9,1884.2 312.1,1820.5 318.2,1940.4 324.4,1931.5 330.5,1938.1 336.6,1713.2 342.8,1766.3 348.9,2000.8 355.1,1809.6 361.2,1593.6 367.4,1673.5 373.5,1776.6 379.7,1803.3 385.8,1625.0 391.9,1453.3 398.1,1588.0 404.2,1600.6 410.4,1608.8 416.5,1857.8 422.7,1633.3 428.8,1763.0 435.0,1822.8 441.1,1667.6 447.2,1645.8 453.4,1599.9 459.5,1561.6 465.7,1221.0 471.8,1312.6 478.0,1585.0 484.1,1540.1 490.3,1617.4 496.4,1491.6 502.6,1543.1 508.7,1658.4 514.8,1596.3 521.0,1507.1 527.1,1597.9 533.3,1558.9 539.4,1528.9 545.6,1513.0 551.7,1536.2 557.9,1416.3 564.0,1447.0 570.1,1544.4 576.3,1458.2 582.4,1820.2 588.6,1766.3 594.7,1667.9 600.9,1520.3 607.0,1534.2 613.2,1511.7 619.3,1641.8 625.5,1417.3 631.6,1557.0 637.7,1585.7 643.9,1654.1 650.0,1779.2 656.2,1894.8 662.3,1955.3 668.5,1900.4 674.6,1777.2 680.8,1738.9 686.9,1783.9 693.0,1682.5 699.2,1701.9 705.3,1372.0 711.5,1206.0" fill="none" stroke="#000" stroke-width="1.5" stroke-linejoin="round"/>
<circle cx="140.0" cy="2076.4" r="9.6" fill="#00008b"/>
<circle cx="146.1" cy="1811.6" r="9.6" fill="#00008b"/>
<circle cx="152.3" cy="2019.9" r="9.6" fill="#00008b"/>
<circle cx="158.4" cy="2452.1" r="9.6" fill="#00008b"/>
<circle cx="164.6" cy="2342.1" r="9.6" fill="#00008b"/>
<circle cx="170.7" cy="2263.7" r="9.6" fill="#00008b"/>
<circle cx="176.9" cy="2224.0" r="9.6" fill="#00008b"/>
<circle cx="183.0" cy="1905.1" r="9.6" fill="#00008b"/>
<circle cx="189.2" cy="1650.1" r="9.6" fill="#00008b"/>
<circle cx="195.3" cy="1866.4" r="9.6" fill="#00008b"/>
<circle cx="201.4" cy="1970.4" r="9.6" fill="#00008b"/>
<circle cx="207.6" cy="1967.8" r="9.6" fill="#00008b"/>
<circle cx="213.7" cy="1951.6" r="9.6" fill="#00008b"/>
<circle cx="219.9" cy="1905.7" r="9.6" fill="#00008b"/>
<circle cx="226.0" cy="1775.9" r="9.6" fill="#00008b"/>
<circle cx="232.2" cy="1814.2" r="9.6" fill="#00008b"/>
<circle cx="238.3" cy="1776.9" r="9.6" fill="#00008b"/>
<circle cx="244.5" cy="1969.8" r="9.6" fill="#00008b"/>
<circle cx="250.6" cy="2011.7" r="9.6" fill="#00008b"/>
<circle cx="256.8" cy="2070.2" r="9.6" fill="#00008b"/>
<circle cx="262.9" cy="2097.6" r="9.6" fill="#00008b"/>
<circle cx="269.0" cy="1966.5" r="9.6" fill="#00008b"/>
<circle cx="275.2" cy="1946.7" r="9.6" fill="#00008b"/>
<circle cx="281.3" cy="1904.4" r="9.6" fill="#00008b"/>
<circle cx="287.5" cy="1881.3" r="9.6" fill="#00008b"/>
<circle cx="293.6" cy="1873.0" r="9.6" fill="#00008b"/>
<circle cx="299.8" cy="1879.6" r="9.6" fill="#00008b"/>
<circle cx="305.9" cy="1884.2" r="9.6" fill="#00008b"/>
<circle cx="312.1" cy="1820.5" r="9.6" fill="#00008b"/>
<circle cx="318.2" cy="1940.4" r="9.6" fill="#00008b"/>
<circle cx="324.4" cy="1931.5" r="9.6" fill="#00008b"/>
<circle cx="330.5" cy="1938.1" r="9.6" fill="#00008b"/>
<circle cx="336.6" cy="1713.2" r="9.6" fill="#00008b"/>
<circle cx="342.8" cy="1766.3" r="9.6" fill="#00008b"/>
<circle cx="348.9" cy="2000.8" r="9.6" fill="#00008b"/>
<circle cx="355.1" cy="1809.6" r="9.6" fill="#00008b"/>
<circle cx="361.2" cy="1593.6" r="9.6" fill="#00008b"/>
<circle cx="367.4" cy="1673.5" r="9.6" fill="#00008b"/>
<circle cx="373.5" cy="1776.6" r="9.6" fill="#00008b"/>
<circle cx="379.7" cy="1803.3" r="9.6" fill="#00008b"/>
<circle cx="385.8" cy="1625.0" r="9.6" fill="#00008b"/>
<circle cx="391.9" cy="1453.3" r="9.6" fill="#00008b"/>
<circle cx="398.1" cy="1588.0" r="9.6" fill="#00008b"/>
<circle cx="404.2" cy="1600.6" r="9.6" fill="#00008b"/>
<circle cx="410.4" cy="1608.8" r="9.6" fill="#00008b"/>
<circle cx="416.5" cy="1857.8" r="9.6" fill="#00008b"/>
<circle cx="422.7" cy="1633.3" r="9.6" fill="#00008b"/>
<circle cx="428.8" cy="1763.0" r="9.6" fill="#00008b"/>
<circle cx="435.0" cy="1822.8" r="9.6" fill="#00008b"/>
<circle cx="441.1" cy="1667.6" r="9.6" fill="#00008b"/>
<circle cx="447.2" cy="1645.8" r="9.6" fill="#00008b"/>
<circle cx="453.4" cy="1599.9" r="9.6" fill="#00008b"/>
<circle cx="459.5" cy="1561.6" r="9.6" fill="#00008b"/>
<circle cx="465.7" cy="1221.0" r="9.6" fill="#4876ff"/>
<circle cx="471.8" cy="1312.6" r="9.6" fill="#4876ff"/>
<circle cx="478.0" cy="1585.0" r="9.6" fill="#00008b"/>
<circle cx="484.1" cy="1540.1" r="9.6" fill="#00008b"/>
<circle cx="490.3" cy="1617.4" r="9.6" fill="#00008b"/>
<circle cx="496.4" cy="1491.6" r="9.6" fill="#00008b"/>
<circle cx="502.6" cy="1543.1" r="9.6" fill="#00008b"/>
<circle cx="508.7" cy="1658.4" r="9.6" fill="#00008b"/>
<circle cx="514.8" cy="1596.3" r="9.6" fill="#00008b"/>
<circle cx="521.0" cy="1507.1" r="9.6" fill="#00008b"/>
<circle cx="527.1" cy="1597.9" r="9.6" fill="#00008b"/>
<circle cx="533.3" cy="1558.9" r="9.6" fill="#00008b"/>
<circle cx="539.4" cy="1528.9" r="9.6" fill="#00008b"/>
<circle cx="545.6" cy="1513.0" r="9.6" fill="#00008b"/>
<circle cx="551.7" cy="1536.2" r="9.6" fill="#00008b"/>
<circle cx="557.9" cy="1416.3" r="9.6" fill="#00008b"/>
<circle cx="564.0" cy="1447.0" r="9.6" fill="#00008b"/>
<circle cx="570.1" cy="1544.4" r="9.6" fill="#00008b"/>
<circle cx="576.3" cy="1458.2" r="9.6" fill="#00008b"/>
<circle cx="582.4" cy="1820.2" r="9.6" fill="#00008b"/>
<circle cx="588.6" cy="1766.3" r="9.6" fill="#00008b"/>
<circle cx="594.7" cy="1667.9" r="9.6" fill="#00008b"/>
<circle cx="600.9" cy="1520.3" r="9.6" fill="#00008b"/>
<circle cx="607.0" cy="1534.2" r="9.6" fill="#00008b"/>
<circle cx="613.2" cy="1511.7" r="9.6" fill="#00008b"/>
<circle cx="619.3" cy="1641.8" r="9.6" fill="#00008b"/>
<circle cx="625.5" cy="1417.3" r="9.6" fill="#00008b"/>
<circle cx="631.6" cy="1557.0" r="9.6" fill="#00008b"/>
<circle cx="637.7" cy="1585.7" r="9.6" fill="#00008b"/>
<circle cx="643.9" cy="1654.1" r="9.6" fill="#00008b"/>
<circle cx="650.0" cy="1779.2" r="9.6" fill="#00008b"/>
<circle cx="656.2" cy="1894.8" r="9.6" fill="#00008b"/>
<circle cx="662.3" cy="1955.3" r="9.6" fill="#00008b"/>
<circle cx="668.5" cy="1900.4" r="9.6" fill="#00008b"/>
<circle cx="674.6" cy="1777.2" r="9.6" fill="#00008b"/>
<circle cx="680.8" cy="1738.9" r="9.6" fill="#00008b"/>
<circle cx="686.9" cy="1783.9" r="9.6" fill="#00008b"/>
<circle cx="693.0" cy="1682.5" r="9.6" fill="#00008b"/>
<circle cx="699.2" cy="1701.9" r="9.6" fill="#00008b"/>
<circle cx="705.3" cy="1372.0" r="9.6" fill="#00008b"/>
<circle cx="711.5" cy="1206.0" r="9.6" fill="#00008b"/>
</g>
<line x1="139.9" y1="22.8" x2="139.9" y2="2569.85" stroke="#000" stroke-width="4.3"/>
<line x1="137.75" y1="2567.7" x2="2377.1" y2="2567.7" stroke="#000" stroke-width="4.3"/>
<line x1="139.9" y1="2567.7" x2="139.9" y2="2579.2" stroke="#333" stroke-width="4.4"/>
<text transform="translate(140.7,2614.0)" class="tk" text-anchor="middle">1.1.</text>
<line x1="326.8" y1="2567.7" x2="326.8" y2="2579.2" stroke="#333" stroke-width="4.4"/>
<text transform="translate(327.6,2614.0)" class="tk" text-anchor="middle">1.2.</text>
<line x1="513.7" y1="2567.7" x2="513.7" y2="2579.2" stroke="#333" stroke-width="4.4"/>
<text transform="translate(514.5,2614.0)" class="tk" text-anchor="middle">1.3.</text>
<line x1="700.6" y1="2567.7" x2="700.6" y2="2579.2" stroke="#333" stroke-width="4.4"/>
<text transform="translate(701.4,2614.0)" class="tk" text-anchor="middle">1.4.</text>
<line x1="887.5" y1="2567.7" x2="887.5" y2="2579.2" stroke="#333" stroke-width="4.4"/>
<text transform="translate(888.3,2614.0)" class="tk" text-anchor="middle">1.5.</text>
<line x1="1074.4" y1="2567.7" x2="1074.4" y2="2579.2" stroke="#333" stroke-width="4.4"/>
<text transform="translate(1075.2,2614.0)" class="tk" text-anchor="middle">1.6.</text>
<line x1="1261.3" y1="2567.7" x2="1261.3" y2="2579.2" stroke="#333" stroke-width="4.4"/>
<text transform="translate(1262.1,2614.0)" class="tk" text-anchor="middle">1.7.</text>
<line x1="1448.2" y1="2567.7" x2="1448.2" y2="2579.2" stroke="#333" stroke-width="4.4"/>
<text transform="translate(1449.0,2614.0)" class="tk" text-anchor="middle">1.8.</text>
<line x1="1635.1" y1="2567.7" x2="1635.1" y2="2579.2" stroke="#333" stroke-width="4.4"/>
<text transform="translate(1635.9,2614.0)" class="tk" text-anchor="middle">1.9.</text>
<line x1="1822.0" y1="2567.7" x2="1822.0" y2="2579.2" stroke="#333" stroke-width="4.4"/>
<text transform="translate(1822.8,2614.0)" class="tk" text-anchor="middle">1.10.</text>
<line x1="2008.9" y1="2567.7" x2="2008.9" y2="2579.2" stroke="#333" stroke-width="4.4"/>
<text transform="translate(2009.7,2614.0)" class="tk" text-anchor="middle">1.11.</text>
<line x1="2195.8" y1="2567.7" x2="2195.8" y2="2579.2" stroke="#333" stroke-width="4.4"/>
<text transform="translate(2196.6,2614.0)" class="tk" text-anchor="middle">1.12.</text>
<line x1="128.2" y1="598.5" x2="139.9" y2="598.5" stroke="#333" stroke-width="4.2"/>
<text transform="translate(118.2,611.3)" class="tk" text-anchor="end">20</text>
<line x1="128.2" y1="1260.7" x2="139.9" y2="1260.7" stroke="#333" stroke-width="4.2"/>
<text transform="translate(118.2,1273.5)" class="tk" text-anchor="end">10</text>
<line x1="128.2" y1="1922.9" x2="139.9" y2="1922.9" stroke="#333" stroke-width="4.2"/>
<text transform="translate(118.2,1935.7)" class="tk" text-anchor="end">0</text>
<text transform="translate(1258.4,2666.9)" class="lab" text-anchor="middle">2026</text>
<text transform="translate(56.0,1295.4) rotate(-90) scale(1.0307,1)" class="lab" text-anchor="middle">air temperature [°C]</text>
<text transform="translate(2377.0,39.8) scale(1.052,1)" class="ttl" text-anchor="end">bern-drakau_1905_air-temperature_2_21735.sensirion-sht35-temperature_--999</text>
</svg>
</body></html>
